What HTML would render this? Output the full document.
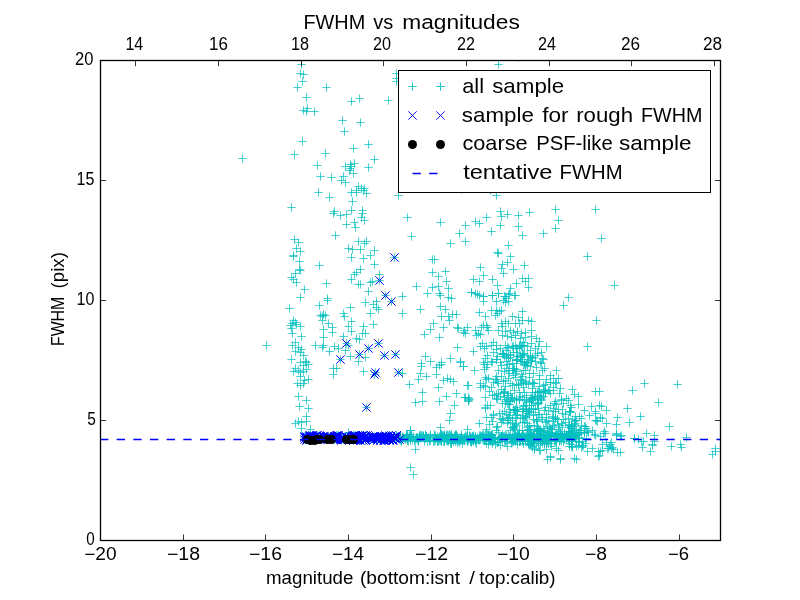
<!DOCTYPE html>
<html><head><meta charset="utf-8"><style>
html,body{margin:0;padding:0;background:#fff;}
svg{display:block;}
text{font-family:"Liberation Sans",sans-serif;fill:#000;}
.tx{will-change:transform;}
</style></head><body>
<svg width="800" height="600" viewBox="0 0 800 600">
<rect width="800" height="600" fill="#fff"/>
<svg x="0" y="0" width="800" height="600"><defs><clipPath id="c"><rect x="100" y="60" width="621" height="481"/></clipPath></defs><g clip-path="url(#c)">
<path d="M297.33 64.5h8.34M301.5 60.33v8.34M296.33 73.5h8.34M300.5 69.33v8.34M299.33 74.5h8.34M303.5 70.33v8.34M298.33 81.5h8.34M302.5 77.33v8.34M293.33 87.5h8.34M297.5 83.33v8.34M322.33 87.5h8.34M326.5 83.33v8.34M302.33 97.5h8.34M306.5 93.33v8.34M347.33 101.5h8.34M351.5 97.33v8.34M355.33 98.5h8.34M359.5 94.33v8.34M384.33 100.5h8.34M388.5 96.33v8.34M299.33 110.5h8.34M303.5 106.33v8.34M303.33 108.5h8.34M307.5 104.33v8.34M302.33 111.5h8.34M306.5 107.33v8.34M310.33 111.5h8.34M314.5 107.33v8.34M338.33 120.5h8.34M342.5 116.33v8.34M356.33 122.5h8.34M360.5 118.33v8.34M340.33 131.5h8.34M344.5 127.33v8.34M392.33 73.5h8.34M396.5 69.33v8.34M392.33 78.5h8.34M396.5 74.33v8.34M392.33 81.5h8.34M396.5 77.33v8.34M298.33 141.5h8.34M302.5 137.33v8.34M364.33 144.5h8.34M368.5 140.33v8.34M349.33 148.5h8.34M353.5 144.33v8.34M321.33 153.5h8.34M325.5 149.33v8.34M370.33 159.5h8.34M374.5 155.33v8.34M313.33 165.5h8.34M317.5 161.33v8.34M364.33 167.5h8.34M368.5 163.33v8.34M341.33 166.5h8.34M345.5 162.33v8.34M346.33 164.5h8.34M350.5 160.33v8.34M350.33 163.5h8.34M354.5 159.33v8.34M346.33 168.5h8.34M350.5 164.33v8.34M347.33 166.5h8.34M351.5 162.33v8.34M345.33 170.5h8.34M349.5 166.33v8.34M349.33 173.5h8.34M353.5 169.33v8.34M339.33 176.5h8.34M343.5 172.33v8.34M337.33 180.5h8.34M341.5 176.33v8.34M341.33 182.5h8.34M345.5 178.33v8.34M316.33 176.5h8.34M320.5 172.33v8.34M327.33 177.5h8.34M331.5 173.33v8.34M314.33 192.5h8.34M318.5 188.33v8.34M325.33 197.5h8.34M329.5 193.33v8.34M354.33 186.5h8.34M358.5 182.33v8.34M357.33 188.5h8.34M361.5 184.33v8.34M352.33 190.5h8.34M356.5 186.33v8.34M360.33 188.5h8.34M364.5 184.33v8.34M347.33 192.5h8.34M351.5 188.33v8.34M352.33 192.5h8.34M356.5 188.33v8.34M362.33 193.5h8.34M366.5 189.33v8.34M359.33 190.5h8.34M363.5 186.33v8.34M348.33 201.5h8.34M352.5 197.33v8.34M330.33 211.5h8.34M334.5 207.33v8.34M347.33 210.5h8.34M351.5 206.33v8.34M358.33 210.5h8.34M362.5 206.33v8.34M394.33 195.5h8.34M398.5 191.33v8.34M290.33 154.5h8.34M294.5 150.33v8.34M287.33 207.5h8.34M291.5 203.33v8.34M336.33 215.5h8.34M340.5 211.33v8.34M342.33 214.5h8.34M346.5 210.33v8.34M329.33 213.5h8.34M333.5 209.33v8.34M360.33 220.5h8.34M364.5 216.33v8.34M357.33 217.5h8.34M361.5 213.33v8.34M350.33 222.5h8.34M354.5 218.33v8.34M342.33 224.5h8.34M346.5 220.33v8.34M351.33 227.5h8.34M355.5 223.33v8.34M358.33 213.5h8.34M362.5 209.33v8.34M403.33 217.5h8.34M407.5 213.33v8.34M436.33 222.5h8.34M440.5 218.33v8.34M331.33 235.5h8.34M335.5 231.33v8.34M407.33 236.5h8.34M411.5 232.33v8.34M290.33 239.5h8.34M294.5 235.33v8.34M294.33 242.5h8.34M298.5 238.33v8.34M292.33 248.5h8.34M296.5 244.33v8.34M296.33 251.5h8.34M300.5 247.33v8.34M289.33 255.5h8.34M293.5 251.33v8.34M289.33 256.5h8.34M293.5 252.33v8.34M295.33 261.5h8.34M299.5 257.33v8.34M295.33 269.5h8.34M299.5 265.33v8.34M296.33 270.5h8.34M300.5 266.33v8.34M291.33 273.5h8.34M295.5 269.33v8.34M287.33 277.5h8.34M291.5 273.33v8.34M289.33 279.5h8.34M293.5 275.33v8.34M292.33 282.5h8.34M296.5 278.33v8.34M300.33 289.5h8.34M304.5 285.33v8.34M296.33 297.5h8.34M300.5 293.33v8.34M315.33 265.5h8.34M319.5 261.33v8.34M322.33 283.5h8.34M326.5 279.33v8.34M354.33 241.5h8.34M358.5 237.33v8.34M362.33 241.5h8.34M366.5 237.33v8.34M360.33 243.5h8.34M364.5 239.33v8.34M344.33 248.5h8.34M348.5 244.33v8.34M348.33 249.5h8.34M352.5 245.33v8.34M356.33 249.5h8.34M360.5 245.33v8.34M370.33 250.5h8.34M374.5 246.33v8.34M366.33 255.5h8.34M370.5 251.33v8.34M347.33 257.5h8.34M351.5 253.33v8.34M359.33 258.5h8.34M363.5 254.33v8.34M370.33 264.5h8.34M374.5 260.33v8.34M356.33 269.5h8.34M360.5 265.33v8.34M352.33 272.5h8.34M356.5 268.33v8.34M350.33 274.5h8.34M354.5 270.33v8.34M375.33 274.5h8.34M379.5 270.33v8.34M347.33 279.5h8.34M351.5 275.33v8.34M366.33 282.5h8.34M370.5 278.33v8.34M368.33 281.5h8.34M372.5 277.33v8.34M354.33 284.5h8.34M358.5 280.33v8.34M356.33 284.5h8.34M360.5 280.33v8.34M364.33 291.5h8.34M368.5 287.33v8.34M428.33 259.5h8.34M432.5 255.33v8.34M430.33 259.5h8.34M434.5 255.33v8.34M428.33 272.5h8.34M432.5 268.33v8.34M434.33 276.5h8.34M438.5 272.33v8.34M412.33 286.5h8.34M416.5 282.33v8.34M423.33 293.5h8.34M427.5 289.33v8.34M428.33 287.5h8.34M432.5 283.33v8.34M434.33 286.5h8.34M438.5 282.33v8.34M398.33 296.5h8.34M402.5 292.33v8.34M323.33 298.5h8.34M327.5 294.33v8.34M238.33 158.5h8.34M242.5 154.33v8.34M494.33 64.5h8.34M498.5 60.33v8.34M514.33 57.5h8.34M518.5 53.33v8.34M457.33 189.5h8.34M461.5 185.33v8.34M486.33 190.5h8.34M490.5 186.33v8.34M492.33 195.5h8.34M496.5 191.33v8.34M496.33 211.5h8.34M500.5 207.33v8.34M497.33 216.5h8.34M501.5 212.33v8.34M503.33 214.5h8.34M507.5 210.33v8.34M514.33 215.5h8.34M518.5 211.33v8.34M525.33 212.5h8.34M529.5 208.33v8.34M551.33 209.5h8.34M555.5 205.33v8.34M554.33 220.5h8.34M558.5 216.33v8.34M551.33 228.5h8.34M555.5 224.33v8.34M539.33 233.5h8.34M543.5 229.33v8.34M518.33 235.5h8.34M522.5 231.33v8.34M514.33 226.5h8.34M518.5 222.33v8.34M496.33 225.5h8.34M500.5 221.33v8.34M487.33 231.5h8.34M491.5 227.33v8.34M482.33 217.5h8.34M486.5 213.33v8.34M471.33 221.5h8.34M475.5 217.33v8.34M475.33 223.5h8.34M479.5 219.33v8.34M461.33 225.5h8.34M465.5 221.33v8.34M455.33 233.5h8.34M459.5 229.33v8.34M461.33 241.5h8.34M465.5 237.33v8.34M446.33 243.5h8.34M450.5 239.33v8.34M504.33 245.5h8.34M508.5 241.33v8.34M494.33 253.5h8.34M498.5 249.33v8.34M493.33 252.5h8.34M497.5 248.33v8.34M506.33 256.5h8.34M510.5 252.33v8.34M583.33 256.5h8.34M587.5 252.33v8.34M503.33 262.5h8.34M507.5 258.33v8.34M498.33 264.5h8.34M502.5 260.33v8.34M520.33 265.5h8.34M524.5 261.33v8.34M476.33 267.5h8.34M480.5 263.33v8.34M497.33 268.5h8.34M501.5 264.33v8.34M509.33 269.5h8.34M513.5 265.33v8.34M499.33 273.5h8.34M503.5 269.33v8.34M441.33 271.5h8.34M445.5 267.33v8.34M442.33 281.5h8.34M446.5 277.33v8.34M479.33 275.5h8.34M483.5 271.33v8.34M469.33 279.5h8.34M473.5 275.33v8.34M475.33 281.5h8.34M479.5 277.33v8.34M488.33 279.5h8.34M492.5 275.33v8.34M493.33 285.5h8.34M497.5 281.33v8.34M512.33 283.5h8.34M516.5 279.33v8.34M518.33 278.5h8.34M522.5 274.33v8.34M524.33 278.5h8.34M528.5 274.33v8.34M521.33 281.5h8.34M525.5 277.33v8.34M524.33 287.5h8.34M528.5 283.33v8.34M506.33 288.5h8.34M510.5 284.33v8.34M444.33 288.5h8.34M448.5 284.33v8.34M435.33 293.5h8.34M439.5 289.33v8.34M436.33 295.5h8.34M440.5 291.33v8.34M444.33 297.5h8.34M448.5 293.33v8.34M467.33 292.5h8.34M471.5 288.33v8.34M473.33 294.5h8.34M477.5 290.33v8.34M479.33 296.5h8.34M483.5 292.33v8.34M488.33 295.5h8.34M492.5 291.33v8.34M494.33 293.5h8.34M498.5 289.33v8.34M500.33 296.5h8.34M504.5 292.33v8.34M505.33 293.5h8.34M509.5 289.33v8.34M511.33 295.5h8.34M515.5 291.33v8.34M564.33 297.5h8.34M568.5 293.33v8.34M502.33 298.5h8.34M506.5 294.33v8.34M591.33 209.5h8.34M595.5 205.33v8.34M597.33 238.5h8.34M601.5 234.33v8.34M610.33 285.5h8.34M614.5 281.33v8.34M285.33 308.5h8.34M289.5 304.33v8.34M315.33 305.5h8.34M319.5 301.33v8.34M323.33 300.5h8.34M327.5 296.33v8.34M361.33 302.5h8.34M365.5 298.33v8.34M369.33 304.5h8.34M373.5 300.33v8.34M372.33 301.5h8.34M376.5 297.33v8.34M372.33 307.5h8.34M376.5 303.33v8.34M374.33 309.5h8.34M378.5 305.33v8.34M366.33 313.5h8.34M370.5 309.33v8.34M369.33 324.5h8.34M373.5 320.33v8.34M346.33 307.5h8.34M350.5 303.33v8.34M339.33 313.5h8.34M343.5 309.33v8.34M340.33 316.5h8.34M344.5 312.33v8.34M316.33 315.5h8.34M320.5 311.33v8.34M319.33 314.5h8.34M323.5 310.33v8.34M321.33 315.5h8.34M325.5 311.33v8.34M318.33 316.5h8.34M322.5 312.33v8.34M318.33 320.5h8.34M322.5 316.33v8.34M324.33 323.5h8.34M328.5 319.33v8.34M328.33 327.5h8.34M332.5 323.33v8.34M319.33 329.5h8.34M323.5 325.33v8.34M328.33 332.5h8.34M332.5 328.33v8.34M319.33 337.5h8.34M323.5 333.33v8.34M347.33 321.5h8.34M351.5 317.33v8.34M344.33 326.5h8.34M348.5 322.33v8.34M347.33 331.5h8.34M351.5 327.33v8.34M359.33 326.5h8.34M363.5 322.33v8.34M361.33 333.5h8.34M365.5 329.33v8.34M352.33 338.5h8.34M356.5 334.33v8.34M355.33 339.5h8.34M359.5 335.33v8.34M339.33 336.5h8.34M343.5 332.33v8.34M311.33 345.5h8.34M315.5 341.33v8.34M319.33 345.5h8.34M323.5 341.33v8.34M318.33 347.5h8.34M322.5 343.33v8.34M330.33 346.5h8.34M334.5 342.33v8.34M325.33 351.5h8.34M329.5 347.33v8.34M334.33 348.5h8.34M338.5 344.33v8.34M344.33 345.5h8.34M348.5 341.33v8.34M341.33 350.5h8.34M345.5 346.33v8.34M346.33 356.5h8.34M350.5 352.33v8.34M361.33 357.5h8.34M365.5 353.33v8.34M354.33 361.5h8.34M358.5 357.33v8.34M286.33 325.5h8.34M290.5 321.33v8.34M288.33 323.5h8.34M292.5 319.33v8.34M291.33 322.5h8.34M295.5 318.33v8.34M289.33 320.5h8.34M293.5 316.33v8.34M292.33 324.5h8.34M296.5 320.33v8.34M296.33 326.5h8.34M300.5 322.33v8.34M287.33 328.5h8.34M291.5 324.33v8.34M288.33 333.5h8.34M292.5 329.33v8.34M297.33 336.5h8.34M301.5 332.33v8.34M288.33 345.5h8.34M292.5 341.33v8.34M291.33 342.5h8.34M295.5 338.33v8.34M294.33 347.5h8.34M298.5 343.33v8.34M297.33 349.5h8.34M301.5 345.33v8.34M299.33 355.5h8.34M303.5 351.33v8.34M291.33 351.5h8.34M295.5 347.33v8.34M296.33 352.5h8.34M300.5 348.33v8.34M287.33 359.5h8.34M291.5 355.33v8.34M302.33 362.5h8.34M306.5 358.33v8.34M398.33 313.5h8.34M402.5 309.33v8.34M416.33 309.5h8.34M420.5 305.33v8.34M436.33 306.5h8.34M440.5 302.33v8.34M441.33 309.5h8.34M445.5 305.33v8.34M437.33 316.5h8.34M441.5 312.33v8.34M444.33 316.5h8.34M448.5 312.33v8.34M448.33 314.5h8.34M452.5 310.33v8.34M452.33 314.5h8.34M456.5 310.33v8.34M445.33 320.5h8.34M449.5 316.33v8.34M429.33 323.5h8.34M433.5 319.33v8.34M426.33 329.5h8.34M430.5 325.33v8.34M439.33 327.5h8.34M443.5 323.33v8.34M420.33 334.5h8.34M424.5 330.33v8.34M435.33 337.5h8.34M439.5 333.33v8.34M453.33 327.5h8.34M457.5 323.33v8.34M358.33 333.5h8.34M362.5 329.33v8.34M421.33 356.5h8.34M425.5 352.33v8.34M426.33 361.5h8.34M430.5 357.33v8.34M437.33 362.5h8.34M441.5 358.33v8.34M446.33 358.5h8.34M450.5 354.33v8.34M453.33 347.5h8.34M457.5 343.33v8.34M417.33 363.5h8.34M421.5 359.33v8.34M296.33 362.5h8.34M300.5 358.33v8.34M301.33 361.5h8.34M305.5 357.33v8.34M304.33 364.5h8.34M308.5 360.33v8.34M299.33 365.5h8.34M303.5 361.33v8.34M291.33 368.5h8.34M295.5 364.33v8.34M294.33 370.5h8.34M298.5 366.33v8.34M289.33 371.5h8.34M293.5 367.33v8.34M296.33 372.5h8.34M300.5 368.33v8.34M299.33 371.5h8.34M303.5 367.33v8.34M302.33 369.5h8.34M306.5 365.33v8.34M296.33 376.5h8.34M300.5 372.33v8.34M304.33 379.5h8.34M308.5 375.33v8.34M300.33 380.5h8.34M304.5 376.33v8.34M293.33 383.5h8.34M297.5 379.33v8.34M296.33 385.5h8.34M300.5 381.33v8.34M299.33 383.5h8.34M303.5 379.33v8.34M329.33 368.5h8.34M333.5 364.33v8.34M332.33 368.5h8.34M336.5 364.33v8.34M329.33 374.5h8.34M333.5 370.33v8.34M359.33 371.5h8.34M363.5 367.33v8.34M294.33 396.5h8.34M298.5 392.33v8.34M302.33 400.5h8.34M306.5 396.33v8.34M295.33 406.5h8.34M299.5 402.33v8.34M304.33 408.5h8.34M308.5 404.33v8.34M302.33 416.5h8.34M306.5 412.33v8.34M294.33 421.5h8.34M298.5 417.33v8.34M297.33 422.5h8.34M301.5 418.33v8.34M302.33 421.5h8.34M306.5 417.33v8.34M291.33 423.5h8.34M295.5 419.33v8.34M297.33 428.5h8.34M301.5 424.33v8.34M306.33 429.5h8.34M310.5 425.33v8.34M398.33 373.5h8.34M402.5 369.33v8.34M417.33 366.5h8.34M421.5 362.33v8.34M432.33 367.5h8.34M436.5 363.33v8.34M435.33 365.5h8.34M439.5 361.33v8.34M437.33 364.5h8.34M441.5 360.33v8.34M456.33 362.5h8.34M460.5 358.33v8.34M459.33 366.5h8.34M463.5 362.33v8.34M416.33 373.5h8.34M420.5 369.33v8.34M422.33 376.5h8.34M426.5 372.33v8.34M432.33 374.5h8.34M436.5 370.33v8.34M414.33 379.5h8.34M418.5 375.33v8.34M405.33 384.5h8.34M409.5 380.33v8.34M439.33 380.5h8.34M443.5 376.33v8.34M443.33 378.5h8.34M447.5 374.33v8.34M446.33 379.5h8.34M450.5 375.33v8.34M449.33 381.5h8.34M453.5 377.33v8.34M434.33 387.5h8.34M438.5 383.33v8.34M463.33 385.5h8.34M467.5 381.33v8.34M418.33 392.5h8.34M422.5 388.33v8.34M452.33 393.5h8.34M456.5 389.33v8.34M442.33 396.5h8.34M446.5 392.33v8.34M411.33 402.5h8.34M415.5 398.33v8.34M418.33 401.5h8.34M422.5 397.33v8.34M435.33 401.5h8.34M439.5 397.33v8.34M461.33 397.5h8.34M465.5 393.33v8.34M464.33 400.5h8.34M468.5 396.33v8.34M464.33 397.5h8.34M468.5 393.33v8.34M450.33 405.5h8.34M454.5 401.33v8.34M446.33 413.5h8.34M450.5 409.33v8.34M445.33 420.5h8.34M449.5 416.33v8.34M436.33 427.5h8.34M440.5 423.33v8.34M463.33 429.5h8.34M467.5 425.33v8.34M406.33 430.5h8.34M410.5 426.33v8.34M467.33 292.5h8.34M471.5 288.33v8.34M471.33 293.5h8.34M475.5 289.33v8.34M475.33 295.5h8.34M479.5 291.33v8.34M479.33 296.5h8.34M483.5 292.33v8.34M479.33 301.5h8.34M483.5 297.33v8.34M488.33 295.5h8.34M492.5 291.33v8.34M494.33 293.5h8.34M498.5 289.33v8.34M501.33 296.5h8.34M505.5 292.33v8.34M504.33 294.5h8.34M508.5 290.33v8.34M510.33 295.5h8.34M514.5 291.33v8.34M492.33 301.5h8.34M496.5 297.33v8.34M499.33 300.5h8.34M503.5 296.33v8.34M501.33 302.5h8.34M505.5 298.33v8.34M504.33 301.5h8.34M508.5 297.33v8.34M447.33 298.5h8.34M451.5 294.33v8.34M475.33 312.5h8.34M479.5 308.33v8.34M487.33 310.5h8.34M491.5 306.33v8.34M492.33 310.5h8.34M496.5 306.33v8.34M495.33 311.5h8.34M499.5 307.33v8.34M497.33 310.5h8.34M501.5 306.33v8.34M493.33 313.5h8.34M497.5 309.33v8.34M491.33 315.5h8.34M495.5 311.33v8.34M481.33 316.5h8.34M485.5 312.33v8.34M518.33 311.5h8.34M522.5 307.33v8.34M508.33 316.5h8.34M512.5 312.33v8.34M514.33 317.5h8.34M518.5 313.33v8.34M518.33 320.5h8.34M522.5 316.33v8.34M524.33 320.5h8.34M528.5 316.33v8.34M527.33 321.5h8.34M531.5 317.33v8.34M501.33 321.5h8.34M505.5 317.33v8.34M497.33 323.5h8.34M501.5 319.33v8.34M504.33 323.5h8.34M508.5 319.33v8.34M511.33 323.5h8.34M515.5 319.33v8.34M515.33 323.5h8.34M519.5 319.33v8.34M479.33 325.5h8.34M483.5 321.33v8.34M482.33 325.5h8.34M486.5 321.33v8.34M483.33 327.5h8.34M487.5 323.33v8.34M477.33 327.5h8.34M481.5 323.33v8.34M454.33 328.5h8.34M458.5 324.33v8.34M460.33 330.5h8.34M464.5 326.33v8.34M463.33 327.5h8.34M467.5 323.33v8.34M461.33 333.5h8.34M465.5 329.33v8.34M459.33 332.5h8.34M463.5 328.33v8.34M471.33 330.5h8.34M475.5 326.33v8.34M474.33 333.5h8.34M478.5 329.33v8.34M472.33 335.5h8.34M476.5 331.33v8.34M476.33 334.5h8.34M480.5 330.33v8.34M484.33 330.5h8.34M488.5 326.33v8.34M494.33 330.5h8.34M498.5 326.33v8.34M498.33 326.5h8.34M502.5 322.33v8.34M501.33 331.5h8.34M505.5 327.33v8.34M506.33 330.5h8.34M510.5 326.33v8.34M509.33 332.5h8.34M513.5 328.33v8.34M513.33 331.5h8.34M517.5 327.33v8.34M517.33 333.5h8.34M521.5 329.33v8.34M521.33 332.5h8.34M525.5 328.33v8.34M527.33 330.5h8.34M531.5 326.33v8.34M498.33 335.5h8.34M502.5 331.33v8.34M503.33 336.5h8.34M507.5 332.33v8.34M507.33 337.5h8.34M511.5 333.33v8.34M511.33 335.5h8.34M515.5 331.33v8.34M516.33 338.5h8.34M520.5 334.33v8.34M521.33 337.5h8.34M525.5 333.33v8.34M527.33 336.5h8.34M531.5 332.33v8.34M532.33 338.5h8.34M536.5 334.33v8.34M535.33 341.5h8.34M539.5 337.33v8.34M542.33 346.5h8.34M546.5 342.33v8.34M469.33 351.5h8.34M473.5 347.33v8.34M478.33 343.5h8.34M482.5 339.33v8.34M482.33 346.5h8.34M486.5 342.33v8.34M480.33 348.5h8.34M484.5 344.33v8.34M476.33 346.5h8.34M480.5 342.33v8.34M489.33 342.5h8.34M493.5 338.33v8.34M487.33 345.5h8.34M491.5 341.33v8.34M492.33 345.5h8.34M496.5 341.33v8.34M496.33 348.5h8.34M500.5 344.33v8.34M501.33 345.5h8.34M505.5 341.33v8.34M504.33 347.5h8.34M508.5 343.33v8.34M508.33 346.5h8.34M512.5 342.33v8.34M512.33 348.5h8.34M516.5 344.33v8.34M516.33 345.5h8.34M520.5 341.33v8.34M519.33 342.5h8.34M523.5 338.33v8.34M523.33 346.5h8.34M527.5 342.33v8.34M527.33 343.5h8.34M531.5 339.33v8.34M531.33 348.5h8.34M535.5 344.33v8.34M534.33 346.5h8.34M538.5 342.33v8.34M483.33 355.5h8.34M487.5 351.33v8.34M489.33 352.5h8.34M493.5 348.33v8.34M493.33 356.5h8.34M497.5 352.33v8.34M498.33 353.5h8.34M502.5 349.33v8.34M502.33 357.5h8.34M506.5 353.33v8.34M506.33 355.5h8.34M510.5 351.33v8.34M509.33 352.5h8.34M513.5 348.33v8.34M513.33 356.5h8.34M517.5 352.33v8.34M518.33 353.5h8.34M522.5 349.33v8.34M523.33 355.5h8.34M527.5 351.33v8.34M528.33 357.5h8.34M532.5 353.33v8.34M533.33 353.5h8.34M537.5 349.33v8.34M538.33 358.5h8.34M542.5 354.33v8.34M456.33 361.5h8.34M460.5 357.33v8.34M479.33 362.5h8.34M483.5 358.33v8.34M487.33 361.5h8.34M491.5 357.33v8.34M496.33 362.5h8.34M500.5 358.33v8.34M502.33 361.5h8.34M506.5 357.33v8.34M508.33 363.5h8.34M512.5 359.33v8.34M516.33 361.5h8.34M520.5 357.33v8.34M523.33 362.5h8.34M527.5 358.33v8.34M531.33 361.5h8.34M535.5 357.33v8.34M537.33 363.5h8.34M541.5 359.33v8.34M559.33 305.5h8.34M563.5 301.33v8.34M592.33 320.5h8.34M596.5 316.33v8.34M583.33 346.5h8.34M587.5 342.33v8.34M537.33 352.5h8.34M541.5 348.33v8.34M539.33 359.5h8.34M543.5 355.33v8.34M459.33 366.5h8.34M463.5 362.33v8.34M470.33 370.5h8.34M474.5 366.33v8.34M480.33 364.5h8.34M484.5 360.33v8.34M480.33 369.5h8.34M484.5 365.33v8.34M482.33 367.5h8.34M486.5 363.33v8.34M488.33 362.5h8.34M492.5 358.33v8.34M494.33 370.5h8.34M498.5 366.33v8.34M497.33 365.5h8.34M501.5 361.33v8.34M481.33 377.5h8.34M485.5 373.33v8.34M476.33 383.5h8.34M480.5 379.33v8.34M476.33 387.5h8.34M480.5 383.33v8.34M479.33 385.5h8.34M483.5 381.33v8.34M464.33 385.5h8.34M468.5 381.33v8.34M489.33 382.5h8.34M493.5 378.33v8.34M492.33 379.5h8.34M496.5 375.33v8.34M493.33 381.5h8.34M497.5 377.33v8.34M487.33 387.5h8.34M491.5 383.33v8.34M460.33 397.5h8.34M464.5 393.33v8.34M464.33 398.5h8.34M468.5 394.33v8.34M464.33 401.5h8.34M468.5 397.33v8.34M465.33 399.5h8.34M469.5 395.33v8.34M481.33 397.5h8.34M485.5 393.33v8.34M483.33 405.5h8.34M487.5 401.33v8.34M486.33 405.5h8.34M490.5 401.33v8.34M481.33 408.5h8.34M485.5 404.33v8.34M482.33 417.5h8.34M486.5 413.33v8.34M489.33 415.5h8.34M493.5 411.33v8.34M490.33 395.5h8.34M494.5 391.33v8.34M494.33 393.5h8.34M498.5 389.33v8.34M497.33 389.5h8.34M501.5 385.33v8.34M500.33 391.5h8.34M504.5 387.33v8.34M492.33 398.5h8.34M496.5 394.33v8.34M552.33 370.5h8.34M556.5 366.33v8.34M554.33 378.5h8.34M558.5 374.33v8.34M546.33 375.5h8.34M550.5 371.33v8.34M556.33 388.5h8.34M560.5 384.33v8.34M568.33 389.5h8.34M572.5 385.33v8.34M591.33 391.5h8.34M595.5 387.33v8.34M595.33 391.5h8.34M599.5 387.33v8.34M628.33 390.5h8.34M632.5 386.33v8.34M574.33 396.5h8.34M578.5 392.33v8.34M570.33 394.5h8.34M574.5 390.33v8.34M574.33 404.5h8.34M578.5 400.33v8.34M562.33 398.5h8.34M566.5 394.33v8.34M587.33 406.5h8.34M591.5 402.33v8.34M595.33 405.5h8.34M599.5 401.33v8.34M602.33 410.5h8.34M606.5 406.33v8.34M580.33 410.5h8.34M584.5 406.33v8.34M623.33 408.5h8.34M627.5 404.33v8.34M585.33 415.5h8.34M589.5 411.33v8.34M591.33 413.5h8.34M595.5 409.33v8.34M596.33 417.5h8.34M600.5 413.33v8.34M613.33 417.5h8.34M617.5 413.33v8.34M625.33 422.5h8.34M629.5 418.33v8.34M636.33 416.5h8.34M640.5 412.33v8.34M602.33 423.5h8.34M606.5 419.33v8.34M592.33 420.5h8.34M596.5 416.33v8.34M580.33 426.5h8.34M584.5 422.33v8.34M572.33 420.5h8.34M576.5 416.33v8.34M566.33 412.5h8.34M570.5 408.33v8.34M612.33 424.5h8.34M616.5 420.33v8.34M600.33 431.5h8.34M604.5 427.33v8.34M612.33 434.5h8.34M616.5 430.33v8.34M616.33 436.5h8.34M620.5 432.33v8.34M630.33 438.5h8.34M634.5 434.33v8.34M584.33 432.5h8.34M588.5 428.33v8.34M590.33 434.5h8.34M594.5 430.33v8.34M596.33 436.5h8.34M600.5 432.33v8.34M588.33 448.5h8.34M592.5 444.33v8.34M596.33 451.5h8.34M600.5 447.33v8.34M604.33 448.5h8.34M608.5 444.33v8.34M616.33 452.5h8.34M620.5 448.33v8.34M606.33 444.5h8.34M610.5 440.33v8.34M598.33 444.5h8.34M602.5 440.33v8.34M594.33 456.5h8.34M598.5 452.33v8.34M546.33 456.5h8.34M550.5 452.33v8.34M556.33 458.5h8.34M560.5 454.33v8.34M570.33 458.5h8.34M574.5 454.33v8.34M536.33 450.5h8.34M540.5 446.33v8.34M640.33 383.5h8.34M644.5 379.33v8.34M654.33 402.5h8.34M658.5 398.33v8.34M475.33 423.5h8.34M479.5 419.33v8.34M485.33 424.5h8.34M489.5 420.33v8.34M493.33 426.5h8.34M497.5 422.33v8.34M496.33 445.5h8.34M500.5 441.33v8.34M503.33 446.5h8.34M507.5 442.33v8.34M543.33 459.5h8.34M547.5 455.33v8.34M546.33 457.5h8.34M550.5 453.33v8.34M556.33 459.5h8.34M560.5 455.33v8.34M572.33 459.5h8.34M576.5 455.33v8.34M535.33 450.5h8.34M539.5 446.33v8.34M595.33 455.5h8.34M599.5 451.33v8.34M594.33 451.5h8.34M598.5 447.33v8.34M583.33 451.5h8.34M587.5 447.33v8.34M613.33 452.5h8.34M617.5 448.33v8.34M603.33 448.5h8.34M607.5 444.33v8.34M608.33 447.5h8.34M612.5 443.33v8.34M528.33 446.5h8.34M532.5 442.33v8.34M525.33 445.5h8.34M529.5 441.33v8.34M552.33 448.5h8.34M556.5 444.33v8.34M554.33 450.5h8.34M558.5 446.33v8.34M568.33 447.5h8.34M572.5 443.33v8.34M572.33 446.5h8.34M576.5 442.33v8.34M578.33 446.5h8.34M582.5 442.33v8.34M591.33 411.5h8.34M595.5 407.33v8.34M597.33 406.5h8.34M601.5 402.33v8.34M598.33 418.5h8.34M602.5 414.33v8.34M591.33 420.5h8.34M595.5 416.33v8.34M593.33 421.5h8.34M597.5 417.33v8.34M571.33 420.5h8.34M575.5 416.33v8.34M577.33 418.5h8.34M581.5 414.33v8.34M581.33 426.5h8.34M585.5 422.33v8.34M576.33 430.5h8.34M580.5 426.33v8.34M583.33 431.5h8.34M587.5 427.33v8.34M588.33 430.5h8.34M592.5 426.33v8.34M591.33 435.5h8.34M595.5 431.33v8.34M601.33 433.5h8.34M605.5 429.33v8.34M612.33 435.5h8.34M616.5 431.33v8.34M566.33 411.5h8.34M570.5 407.33v8.34M564.33 418.5h8.34M568.5 414.33v8.34M673.33 384.5h8.34M677.5 380.33v8.34M665.33 426.5h8.34M669.5 422.33v8.34M642.33 433.5h8.34M646.5 429.33v8.34M650.33 435.5h8.34M654.5 431.33v8.34M682.33 437.5h8.34M686.5 433.33v8.34M637.33 441.5h8.34M641.5 437.33v8.34M638.33 447.5h8.34M642.5 443.33v8.34M648.33 444.5h8.34M652.5 440.33v8.34M650.33 441.5h8.34M654.5 437.33v8.34M667.33 446.5h8.34M671.5 442.33v8.34M676.33 444.5h8.34M680.5 440.33v8.34M677.33 447.5h8.34M681.5 443.33v8.34M711.33 448.5h8.34M715.5 444.33v8.34M607.33 442.5h8.34M611.5 438.33v8.34M607.33 448.5h8.34M611.5 444.33v8.34M630.33 438.5h8.34M634.5 434.33v8.34M634.33 439.5h8.34M638.5 435.33v8.34M639.33 441.5h8.34M643.5 437.33v8.34M648.33 445.5h8.34M652.5 441.33v8.34M646.33 451.5h8.34M650.5 447.33v8.34M711.33 451.5h8.34M715.5 447.33v8.34M708.33 454.5h8.34M712.5 450.33v8.34M612.33 433.5h8.34M616.5 429.33v8.34M617.33 435.5h8.34M621.5 431.33v8.34M599.33 433.5h8.34M603.5 429.33v8.34M605.33 446.5h8.34M609.5 442.33v8.34M609.33 449.5h8.34M613.5 445.33v8.34M602.33 442.5h8.34M606.5 438.33v8.34M598.33 450.5h8.34M602.5 446.33v8.34M406.33 467.5h8.34M410.5 463.33v8.34M409.33 474.5h8.34M413.5 470.33v8.34M411.33 449.5h8.34M415.5 445.33v8.34M406.33 430.5h8.34M410.5 426.33v8.34M344.33 432.5h8.34M348.5 428.33v8.34M262.33 345.5h8.34M266.5 341.33v8.34M430.33 437.5h8.34M434.5 433.33v8.34M564.33 434.5h8.34M568.5 430.33v8.34M543.33 437.5h8.34M547.5 433.33v8.34M485.33 440.5h8.34M489.5 436.33v8.34M466.33 438.5h8.34M470.5 434.33v8.34M519.33 441.5h8.34M523.5 437.33v8.34M457.33 440.5h8.34M461.5 436.33v8.34M523.33 439.5h8.34M527.5 435.33v8.34M468.33 436.5h8.34M472.5 432.33v8.34M405.33 435.5h8.34M409.5 431.33v8.34M408.33 439.5h8.34M412.5 435.33v8.34M442.33 435.5h8.34M446.5 431.33v8.34M411.33 440.5h8.34M415.5 436.33v8.34M552.33 439.5h8.34M556.5 435.33v8.34M446.33 435.5h8.34M450.5 431.33v8.34M448.33 437.5h8.34M452.5 433.33v8.34M424.33 437.5h8.34M428.5 433.33v8.34M443.33 441.5h8.34M447.5 437.33v8.34M571.33 438.5h8.34M575.5 434.33v8.34M440.33 441.5h8.34M444.5 437.33v8.34M451.33 436.5h8.34M455.5 432.33v8.34M396.33 437.5h8.34M400.5 433.33v8.34M481.33 438.5h8.34M485.5 434.33v8.34M432.33 438.5h8.34M436.5 434.33v8.34M396.33 436.5h8.34M400.5 432.33v8.34M412.33 437.5h8.34M416.5 433.33v8.34M403.33 434.5h8.34M407.5 430.33v8.34M450.33 435.5h8.34M454.5 431.33v8.34M501.33 438.5h8.34M505.5 434.33v8.34M531.33 439.5h8.34M535.5 435.33v8.34M524.33 441.5h8.34M528.5 437.33v8.34M466.33 436.5h8.34M470.5 432.33v8.34M573.33 435.5h8.34M577.5 431.33v8.34M526.33 439.5h8.34M530.5 435.33v8.34M403.33 440.5h8.34M407.5 436.33v8.34M556.33 439.5h8.34M560.5 435.33v8.34M528.33 440.5h8.34M532.5 436.33v8.34M421.33 438.5h8.34M425.5 434.33v8.34M486.33 440.5h8.34M490.5 436.33v8.34M540.33 440.5h8.34M544.5 436.33v8.34M501.33 441.5h8.34M505.5 437.33v8.34M518.33 439.5h8.34M522.5 435.33v8.34M437.33 434.5h8.34M441.5 430.33v8.34M419.33 436.5h8.34M423.5 432.33v8.34M414.33 440.5h8.34M418.5 436.33v8.34M496.33 439.5h8.34M500.5 435.33v8.34M508.33 439.5h8.34M512.5 435.33v8.34M484.33 434.5h8.34M488.5 430.33v8.34M539.33 439.5h8.34M543.5 435.33v8.34M486.33 438.5h8.34M490.5 434.33v8.34M514.33 434.5h8.34M518.5 430.33v8.34M528.33 436.5h8.34M532.5 432.33v8.34M409.33 436.5h8.34M413.5 432.33v8.34M527.33 435.5h8.34M531.5 431.33v8.34M529.33 441.5h8.34M533.5 437.33v8.34M484.33 437.5h8.34M488.5 433.33v8.34M482.33 439.5h8.34M486.5 435.33v8.34M534.33 438.5h8.34M538.5 434.33v8.34M511.33 434.5h8.34M515.5 430.33v8.34M422.33 436.5h8.34M426.5 432.33v8.34M529.33 436.5h8.34M533.5 432.33v8.34M498.33 434.5h8.34M502.5 430.33v8.34M406.33 436.5h8.34M410.5 432.33v8.34M516.33 439.5h8.34M520.5 435.33v8.34M517.33 436.5h8.34M521.5 432.33v8.34M488.33 437.5h8.34M492.5 433.33v8.34M479.33 434.5h8.34M483.5 430.33v8.34M556.33 435.5h8.34M560.5 431.33v8.34M572.33 441.5h8.34M576.5 437.33v8.34M399.33 437.5h8.34M403.5 433.33v8.34M543.33 441.5h8.34M547.5 437.33v8.34M476.33 436.5h8.34M480.5 432.33v8.34M433.33 441.5h8.34M437.5 437.33v8.34M433.33 438.5h8.34M437.5 434.33v8.34M421.33 438.5h8.34M425.5 434.33v8.34M567.33 435.5h8.34M571.5 431.33v8.34M543.33 438.5h8.34M547.5 434.33v8.34M555.33 439.5h8.34M559.5 435.33v8.34M437.33 441.5h8.34M441.5 437.33v8.34M483.33 434.5h8.34M487.5 430.33v8.34M396.33 437.5h8.34M400.5 433.33v8.34M477.33 436.5h8.34M481.5 432.33v8.34M421.33 436.5h8.34M425.5 432.33v8.34M452.33 440.5h8.34M456.5 436.33v8.34M547.33 434.5h8.34M551.5 430.33v8.34M562.33 439.5h8.34M566.5 435.33v8.34M558.33 436.5h8.34M562.5 432.33v8.34M463.33 437.5h8.34M467.5 433.33v8.34M575.33 438.5h8.34M579.5 434.33v8.34M460.33 437.5h8.34M464.5 433.33v8.34M445.33 434.5h8.34M449.5 430.33v8.34M414.33 440.5h8.34M418.5 436.33v8.34M447.33 441.5h8.34M451.5 437.33v8.34M440.33 436.5h8.34M444.5 432.33v8.34M487.33 435.5h8.34M491.5 431.33v8.34M463.33 441.5h8.34M467.5 437.33v8.34M555.33 440.5h8.34M559.5 436.33v8.34M509.33 441.5h8.34M513.5 437.33v8.34M565.33 438.5h8.34M569.5 434.33v8.34M525.33 434.5h8.34M529.5 430.33v8.34M527.33 437.5h8.34M531.5 433.33v8.34M531.33 439.5h8.34M535.5 435.33v8.34M447.33 434.5h8.34M451.5 430.33v8.34M562.33 435.5h8.34M566.5 431.33v8.34M480.33 436.5h8.34M484.5 432.33v8.34M449.33 439.5h8.34M453.5 435.33v8.34M571.33 436.5h8.34M575.5 432.33v8.34M514.33 436.5h8.34M518.5 432.33v8.34M496.33 437.5h8.34M500.5 433.33v8.34M426.33 435.5h8.34M430.5 431.33v8.34M433.33 441.5h8.34M437.5 437.33v8.34M485.33 435.5h8.34M489.5 431.33v8.34M559.33 441.5h8.34M563.5 437.33v8.34M476.33 435.5h8.34M480.5 431.33v8.34M430.33 434.5h8.34M434.5 430.33v8.34M457.33 434.5h8.34M461.5 430.33v8.34M439.33 436.5h8.34M443.5 432.33v8.34M498.33 441.5h8.34M502.5 437.33v8.34M530.33 437.5h8.34M534.5 433.33v8.34M470.33 438.5h8.34M474.5 434.33v8.34M463.33 436.5h8.34M467.5 432.33v8.34M407.33 436.5h8.34M411.5 432.33v8.34M570.33 435.5h8.34M574.5 431.33v8.34M486.33 439.5h8.34M490.5 435.33v8.34M551.33 435.5h8.34M555.5 431.33v8.34M444.33 435.5h8.34M448.5 431.33v8.34M467.33 437.5h8.34M471.5 433.33v8.34M567.33 440.5h8.34M571.5 436.33v8.34M553.33 434.5h8.34M557.5 430.33v8.34M401.33 439.5h8.34M405.5 435.33v8.34M557.33 437.5h8.34M561.5 433.33v8.34M501.33 434.5h8.34M505.5 430.33v8.34M466.33 441.5h8.34M470.5 437.33v8.34M544.33 440.5h8.34M548.5 436.33v8.34M571.33 435.5h8.34M575.5 431.33v8.34M415.33 435.5h8.34M419.5 431.33v8.34M490.33 439.5h8.34M494.5 435.33v8.34M565.33 439.5h8.34M569.5 435.33v8.34M512.33 440.5h8.34M516.5 436.33v8.34M478.33 438.5h8.34M482.5 434.33v8.34M403.33 440.5h8.34M407.5 436.33v8.34M437.33 441.5h8.34M441.5 437.33v8.34M512.33 436.5h8.34M516.5 432.33v8.34M419.33 436.5h8.34M423.5 432.33v8.34M510.33 439.5h8.34M514.5 435.33v8.34M416.33 434.5h8.34M420.5 430.33v8.34M490.33 438.5h8.34M494.5 434.33v8.34M465.33 435.5h8.34M469.5 431.33v8.34M504.33 434.5h8.34M508.5 430.33v8.34M450.33 437.5h8.34M454.5 433.33v8.34M568.33 439.5h8.34M572.5 435.33v8.34M555.33 437.5h8.34M559.5 433.33v8.34M438.33 435.5h8.34M442.5 431.33v8.34M568.33 439.5h8.34M572.5 435.33v8.34M451.33 434.5h8.34M455.5 430.33v8.34M485.33 439.5h8.34M489.5 435.33v8.34M471.33 436.5h8.34M475.5 432.33v8.34M516.33 441.5h8.34M520.5 437.33v8.34M436.33 434.5h8.34M440.5 430.33v8.34M456.33 437.5h8.34M460.5 433.33v8.34M518.33 435.5h8.34M522.5 431.33v8.34M539.33 439.5h8.34M543.5 435.33v8.34M486.33 435.5h8.34M490.5 431.33v8.34M570.33 436.5h8.34M574.5 432.33v8.34M543.33 435.5h8.34M547.5 431.33v8.34M435.33 440.5h8.34M439.5 436.33v8.34M449.33 441.5h8.34M453.5 437.33v8.34M485.33 435.5h8.34M489.5 431.33v8.34M436.33 437.5h8.34M440.5 433.33v8.34M515.33 441.5h8.34M519.5 437.33v8.34M422.33 437.5h8.34M426.5 433.33v8.34M434.33 441.5h8.34M438.5 437.33v8.34M421.33 434.5h8.34M425.5 430.33v8.34M406.33 437.5h8.34M410.5 433.33v8.34M557.33 441.5h8.34M561.5 437.33v8.34M527.33 441.5h8.34M531.5 437.33v8.34M563.33 436.5h8.34M567.5 432.33v8.34M429.33 441.5h8.34M433.5 437.33v8.34M530.33 434.5h8.34M534.5 430.33v8.34M515.33 437.5h8.34M519.5 433.33v8.34M463.33 436.5h8.34M467.5 432.33v8.34M426.33 434.5h8.34M430.5 430.33v8.34M446.33 436.5h8.34M450.5 432.33v8.34M567.33 434.5h8.34M571.5 430.33v8.34M569.33 435.5h8.34M573.5 431.33v8.34M460.33 440.5h8.34M464.5 436.33v8.34M543.33 437.5h8.34M547.5 433.33v8.34M404.33 437.5h8.34M408.5 433.33v8.34M463.33 441.5h8.34M467.5 437.33v8.34M430.33 436.5h8.34M434.5 432.33v8.34M557.33 434.5h8.34M561.5 430.33v8.34M469.33 440.5h8.34M473.5 436.33v8.34M534.33 434.5h8.34M538.5 430.33v8.34M402.33 434.5h8.34M406.5 430.33v8.34M561.33 436.5h8.34M565.5 432.33v8.34M530.33 441.5h8.34M534.5 437.33v8.34M457.33 436.5h8.34M461.5 432.33v8.34M568.33 438.5h8.34M572.5 434.33v8.34M443.33 439.5h8.34M447.5 435.33v8.34M452.33 436.5h8.34M456.5 432.33v8.34M396.33 440.5h8.34M400.5 436.33v8.34M560.33 439.5h8.34M564.5 435.33v8.34M565.33 434.5h8.34M569.5 430.33v8.34M438.33 437.5h8.34M442.5 433.33v8.34M568.33 441.5h8.34M572.5 437.33v8.34M465.33 436.5h8.34M469.5 432.33v8.34M473.33 437.5h8.34M477.5 433.33v8.34M563.33 435.5h8.34M567.5 431.33v8.34M540.33 439.5h8.34M544.5 435.33v8.34M544.33 440.5h8.34M548.5 436.33v8.34M505.33 436.5h8.34M509.5 432.33v8.34M453.33 436.5h8.34M457.5 432.33v8.34M536.33 434.5h8.34M540.5 430.33v8.34M431.33 440.5h8.34M435.5 436.33v8.34M440.33 434.5h8.34M444.5 430.33v8.34M402.33 438.5h8.34M406.5 434.33v8.34M454.33 441.5h8.34M458.5 437.33v8.34M555.33 441.5h8.34M559.5 437.33v8.34M443.33 434.5h8.34M447.5 430.33v8.34M413.33 437.5h8.34M417.5 433.33v8.34M523.33 437.5h8.34M527.5 433.33v8.34M438.33 437.5h8.34M442.5 433.33v8.34M507.33 439.5h8.34M511.5 435.33v8.34M530.33 440.5h8.34M534.5 436.33v8.34M515.33 434.5h8.34M519.5 430.33v8.34M547.33 436.5h8.34M551.5 432.33v8.34M498.33 436.5h8.34M502.5 432.33v8.34M528.33 435.5h8.34M532.5 431.33v8.34M440.33 435.5h8.34M444.5 431.33v8.34M423.33 441.5h8.34M427.5 437.33v8.34M500.33 436.5h8.34M504.5 432.33v8.34M467.33 441.5h8.34M471.5 437.33v8.34M487.33 435.5h8.34M491.5 431.33v8.34M541.33 439.5h8.34M545.5 435.33v8.34M574.33 434.5h8.34M578.5 430.33v8.34M481.33 440.5h8.34M485.5 436.33v8.34M547.33 441.5h8.34M551.5 437.33v8.34M403.33 436.5h8.34M407.5 432.33v8.34M417.33 435.5h8.34M421.5 431.33v8.34M571.33 438.5h8.34M575.5 434.33v8.34M563.33 436.5h8.34M567.5 432.33v8.34M551.33 437.5h8.34M555.5 433.33v8.34M442.33 440.5h8.34M446.5 436.33v8.34M566.33 434.5h8.34M570.5 430.33v8.34M503.33 438.5h8.34M507.5 434.33v8.34M435.33 436.5h8.34M439.5 432.33v8.34M421.33 435.5h8.34M425.5 431.33v8.34M441.33 438.5h8.34M445.5 434.33v8.34M513.33 435.5h8.34M517.5 431.33v8.34M398.33 436.5h8.34M402.5 432.33v8.34M518.33 435.5h8.34M522.5 431.33v8.34M452.33 435.5h8.34M456.5 431.33v8.34M539.33 438.5h8.34M543.5 434.33v8.34M407.33 434.5h8.34M411.5 430.33v8.34M467.33 438.5h8.34M471.5 434.33v8.34M511.33 434.5h8.34M515.5 430.33v8.34M425.33 439.5h8.34M429.5 435.33v8.34M469.33 436.5h8.34M473.5 432.33v8.34M451.33 441.5h8.34M455.5 437.33v8.34M452.33 438.5h8.34M456.5 434.33v8.34M460.33 437.5h8.34M464.5 433.33v8.34M551.33 441.5h8.34M555.5 437.33v8.34M461.33 435.5h8.34M465.5 431.33v8.34M527.33 435.5h8.34M531.5 431.33v8.34M397.33 441.5h8.34M401.5 437.33v8.34M472.33 440.5h8.34M476.5 436.33v8.34M469.33 441.5h8.34M473.5 437.33v8.34M478.33 435.5h8.34M482.5 431.33v8.34M398.33 438.5h8.34M402.5 434.33v8.34M511.33 441.5h8.34M515.5 437.33v8.34M412.33 438.5h8.34M416.5 434.33v8.34M462.33 438.5h8.34M466.5 434.33v8.34M422.33 436.5h8.34M426.5 432.33v8.34M489.33 441.5h8.34M493.5 437.33v8.34M415.33 437.5h8.34M419.5 433.33v8.34M540.33 441.5h8.34M544.5 437.33v8.34M431.33 435.5h8.34M435.5 431.33v8.34M565.33 441.5h8.34M569.5 437.33v8.34M482.33 434.5h8.34M486.5 430.33v8.34M562.33 437.5h8.34M566.5 433.33v8.34M558.33 438.5h8.34M562.5 434.33v8.34M544.33 435.5h8.34M548.5 431.33v8.34M537.33 435.5h8.34M541.5 431.33v8.34M468.33 440.5h8.34M472.5 436.33v8.34M545.33 435.5h8.34M549.5 431.33v8.34M435.33 437.5h8.34M439.5 433.33v8.34M489.33 437.5h8.34M493.5 433.33v8.34M418.33 435.5h8.34M422.5 431.33v8.34M526.33 441.5h8.34M530.5 437.33v8.34M403.33 438.5h8.34M407.5 434.33v8.34M532.33 434.5h8.34M536.5 430.33v8.34M546.33 434.5h8.34M550.5 430.33v8.34M503.33 438.5h8.34M507.5 434.33v8.34M508.33 436.5h8.34M512.5 432.33v8.34M471.33 438.5h8.34M475.5 434.33v8.34M472.33 439.5h8.34M476.5 435.33v8.34M476.33 437.5h8.34M480.5 433.33v8.34M400.33 438.5h8.34M404.5 434.33v8.34M484.33 435.5h8.34M488.5 431.33v8.34M533.33 440.5h8.34M537.5 436.33v8.34M478.33 435.5h8.34M482.5 431.33v8.34M481.33 434.5h8.34M485.5 430.33v8.34M419.33 437.5h8.34M423.5 433.33v8.34M412.33 437.5h8.34M416.5 433.33v8.34M487.33 434.5h8.34M491.5 430.33v8.34M510.33 434.5h8.34M514.5 430.33v8.34M528.33 440.5h8.34M532.5 436.33v8.34M488.33 434.5h8.34M492.5 430.33v8.34M486.33 437.5h8.34M490.5 433.33v8.34M567.33 435.5h8.34M571.5 431.33v8.34M550.33 441.5h8.34M554.5 437.33v8.34M527.33 440.5h8.34M531.5 436.33v8.34M430.33 441.5h8.34M434.5 437.33v8.34M484.33 441.5h8.34M488.5 437.33v8.34M560.33 435.5h8.34M564.5 431.33v8.34M537.33 441.5h8.34M541.5 437.33v8.34M407.33 436.5h8.34M411.5 432.33v8.34M532.33 435.5h8.34M536.5 431.33v8.34M557.33 436.5h8.34M561.5 432.33v8.34M542.33 435.5h8.34M546.5 431.33v8.34M486.33 441.5h8.34M490.5 437.33v8.34M433.33 436.5h8.34M437.5 432.33v8.34M487.33 436.5h8.34M491.5 432.33v8.34M402.33 435.5h8.34M406.5 431.33v8.34M425.33 441.5h8.34M429.5 437.33v8.34M518.33 441.5h8.34M522.5 437.33v8.34M426.33 440.5h8.34M430.5 436.33v8.34M416.33 438.5h8.34M420.5 434.33v8.34M510.33 436.5h8.34M514.5 432.33v8.34M553.33 438.5h8.34M557.5 434.33v8.34M500.33 441.5h8.34M504.5 437.33v8.34M414.33 441.5h8.34M418.5 437.33v8.34M509.33 437.5h8.34M513.5 433.33v8.34M539.33 436.5h8.34M543.5 432.33v8.34M574.33 438.5h8.34M578.5 434.33v8.34M460.33 440.5h8.34M464.5 436.33v8.34M475.33 435.5h8.34M479.5 431.33v8.34M529.33 434.5h8.34M533.5 430.33v8.34M543.33 436.5h8.34M547.5 432.33v8.34M511.33 441.5h8.34M515.5 437.33v8.34M501.33 439.5h8.34M505.5 435.33v8.34M452.33 434.5h8.34M456.5 430.33v8.34M402.33 435.5h8.34M406.5 431.33v8.34M506.33 437.5h8.34M510.5 433.33v8.34M488.33 441.5h8.34M492.5 437.33v8.34M419.33 435.5h8.34M423.5 431.33v8.34M513.33 434.5h8.34M517.5 430.33v8.34M396.33 436.5h8.34M400.5 432.33v8.34M415.33 436.5h8.34M419.5 432.33v8.34M436.33 438.5h8.34M440.5 434.33v8.34M502.33 435.5h8.34M506.5 431.33v8.34M508.33 437.5h8.34M512.5 433.33v8.34M420.33 441.5h8.34M424.5 437.33v8.34M439.33 435.5h8.34M443.5 431.33v8.34M413.33 439.5h8.34M417.5 435.33v8.34M552.33 440.5h8.34M556.5 436.33v8.34M468.33 436.5h8.34M472.5 432.33v8.34M398.33 439.5h8.34M402.5 435.33v8.34M497.33 436.5h8.34M501.5 432.33v8.34M512.33 437.5h8.34M516.5 433.33v8.34M564.33 439.5h8.34M568.5 435.33v8.34M440.33 441.5h8.34M444.5 437.33v8.34M403.33 438.5h8.34M407.5 434.33v8.34M469.33 435.5h8.34M473.5 431.33v8.34M406.33 440.5h8.34M410.5 436.33v8.34M398.33 438.5h8.34M402.5 434.33v8.34M565.33 435.5h8.34M569.5 431.33v8.34M431.33 438.5h8.34M435.5 434.33v8.34M487.33 439.5h8.34M491.5 435.33v8.34M542.33 435.5h8.34M546.5 431.33v8.34M451.33 436.5h8.34M455.5 432.33v8.34M404.33 441.5h8.34M408.5 437.33v8.34M536.33 439.5h8.34M540.5 435.33v8.34M397.33 440.5h8.34M401.5 436.33v8.34M530.33 437.5h8.34M534.5 433.33v8.34M529.33 437.5h8.34M533.5 433.33v8.34M436.33 434.5h8.34M440.5 430.33v8.34M437.33 434.5h8.34M441.5 430.33v8.34M456.33 440.5h8.34M460.5 436.33v8.34M521.33 440.5h8.34M525.5 436.33v8.34M524.33 436.5h8.34M528.5 432.33v8.34M495.33 437.5h8.34M499.5 433.33v8.34M537.33 438.5h8.34M541.5 434.33v8.34M443.33 439.5h8.34M447.5 435.33v8.34M569.33 435.5h8.34M573.5 431.33v8.34M554.33 434.5h8.34M558.5 430.33v8.34M442.33 435.5h8.34M446.5 431.33v8.34M529.33 441.5h8.34M533.5 437.33v8.34M530.33 436.5h8.34M534.5 432.33v8.34M554.33 436.5h8.34M558.5 432.33v8.34M439.33 441.5h8.34M443.5 437.33v8.34M509.33 439.5h8.34M513.5 435.33v8.34M515.33 441.5h8.34M519.5 437.33v8.34M480.33 440.5h8.34M484.5 436.33v8.34M521.33 440.5h8.34M525.5 436.33v8.34M474.33 439.5h8.34M478.5 435.33v8.34M498.33 436.5h8.34M502.5 432.33v8.34M434.33 438.5h8.34M438.5 434.33v8.34M410.33 441.5h8.34M414.5 437.33v8.34M492.33 427.5h8.34M496.5 423.33v8.34M519.33 353.5h8.34M523.5 349.33v8.34M557.33 399.5h8.34M561.5 395.33v8.34M558.33 409.5h8.34M562.5 405.33v8.34M488.33 395.5h8.34M492.5 391.33v8.34M521.33 416.5h8.34M525.5 412.33v8.34M571.33 423.5h8.34M575.5 419.33v8.34M488.33 421.5h8.34M492.5 417.33v8.34M582.33 428.5h8.34M586.5 424.33v8.34M492.33 359.5h8.34M496.5 355.33v8.34M575.33 416.5h8.34M579.5 412.33v8.34M551.33 417.5h8.34M555.5 413.33v8.34M492.33 349.5h8.34M496.5 345.33v8.34M516.33 379.5h8.34M520.5 375.33v8.34M483.33 364.5h8.34M487.5 360.33v8.34M512.33 407.5h8.34M516.5 403.33v8.34M521.33 370.5h8.34M525.5 366.33v8.34M484.33 378.5h8.34M488.5 374.33v8.34M529.33 412.5h8.34M533.5 408.33v8.34M519.33 406.5h8.34M523.5 402.33v8.34M481.33 358.5h8.34M485.5 354.33v8.34M565.33 431.5h8.34M569.5 427.33v8.34M481.33 386.5h8.34M485.5 382.33v8.34M535.33 414.5h8.34M539.5 410.33v8.34M501.33 386.5h8.34M505.5 382.33v8.34M519.33 418.5h8.34M523.5 414.33v8.34M509.33 428.5h8.34M513.5 424.33v8.34M512.33 360.5h8.34M516.5 356.33v8.34M493.33 399.5h8.34M497.5 395.33v8.34M489.33 414.5h8.34M493.5 410.33v8.34M558.33 413.5h8.34M562.5 409.33v8.34M525.33 377.5h8.34M529.5 373.33v8.34M503.33 364.5h8.34M507.5 360.33v8.34M523.33 423.5h8.34M527.5 419.33v8.34M506.33 383.5h8.34M510.5 379.33v8.34M540.33 410.5h8.34M544.5 406.33v8.34M564.33 400.5h8.34M568.5 396.33v8.34M519.33 370.5h8.34M523.5 366.33v8.34M498.33 419.5h8.34M502.5 415.33v8.34M554.33 409.5h8.34M558.5 405.33v8.34M499.33 381.5h8.34M503.5 377.33v8.34M494.33 383.5h8.34M498.5 379.33v8.34M502.33 368.5h8.34M506.5 364.33v8.34M559.33 419.5h8.34M563.5 415.33v8.34M498.33 354.5h8.34M502.5 350.33v8.34M508.33 370.5h8.34M512.5 366.33v8.34M517.33 357.5h8.34M521.5 353.33v8.34M492.33 430.5h8.34M496.5 426.33v8.34M492.33 376.5h8.34M496.5 372.33v8.34M502.33 399.5h8.34M506.5 395.33v8.34M492.33 359.5h8.34M496.5 355.33v8.34M525.33 414.5h8.34M529.5 410.33v8.34M551.33 383.5h8.34M555.5 379.33v8.34M496.33 396.5h8.34M500.5 392.33v8.34M525.33 409.5h8.34M529.5 405.33v8.34M544.33 410.5h8.34M548.5 406.33v8.34M527.33 361.5h8.34M531.5 357.33v8.34M561.33 422.5h8.34M565.5 418.33v8.34M566.33 405.5h8.34M570.5 401.33v8.34M552.33 382.5h8.34M556.5 378.33v8.34M515.33 399.5h8.34M519.5 395.33v8.34M491.33 379.5h8.34M495.5 375.33v8.34M567.33 407.5h8.34M571.5 403.33v8.34M528.33 382.5h8.34M532.5 378.33v8.34M549.33 378.5h8.34M553.5 374.33v8.34M555.33 427.5h8.34M559.5 423.33v8.34M501.33 401.5h8.34M505.5 397.33v8.34M535.33 431.5h8.34M539.5 427.33v8.34M485.33 391.5h8.34M489.5 387.33v8.34M498.33 413.5h8.34M502.5 409.33v8.34M492.33 394.5h8.34M496.5 390.33v8.34M541.33 407.5h8.34M545.5 403.33v8.34M537.33 400.5h8.34M541.5 396.33v8.34M526.33 429.5h8.34M530.5 425.33v8.34M504.33 404.5h8.34M508.5 400.33v8.34M524.33 411.5h8.34M528.5 407.33v8.34M494.33 432.5h8.34M498.5 428.33v8.34M520.33 345.5h8.34M524.5 341.33v8.34M511.33 377.5h8.34M515.5 373.33v8.34M482.33 379.5h8.34M486.5 375.33v8.34M527.33 405.5h8.34M531.5 401.33v8.34M520.33 364.5h8.34M524.5 360.33v8.34M505.33 409.5h8.34M509.5 405.33v8.34M505.33 415.5h8.34M509.5 411.33v8.34M524.33 359.5h8.34M528.5 355.33v8.34M495.33 413.5h8.34M499.5 409.33v8.34M533.33 392.5h8.34M537.5 388.33v8.34M506.33 430.5h8.34M510.5 426.33v8.34M520.33 400.5h8.34M524.5 396.33v8.34M571.33 416.5h8.34M575.5 412.33v8.34M532.33 367.5h8.34M536.5 363.33v8.34M522.33 363.5h8.34M526.5 359.33v8.34M528.33 357.5h8.34M532.5 353.33v8.34M481.33 407.5h8.34M485.5 403.33v8.34M512.33 363.5h8.34M516.5 359.33v8.34M514.33 385.5h8.34M518.5 381.33v8.34M528.33 399.5h8.34M532.5 395.33v8.34M487.33 417.5h8.34M491.5 413.33v8.34M496.33 418.5h8.34M500.5 414.33v8.34M482.33 429.5h8.34M486.5 425.33v8.34M504.33 355.5h8.34M508.5 351.33v8.34M516.33 418.5h8.34M520.5 414.33v8.34M526.33 356.5h8.34M530.5 352.33v8.34M510.33 429.5h8.34M514.5 425.33v8.34M549.33 418.5h8.34M553.5 414.33v8.34M554.33 429.5h8.34M558.5 425.33v8.34M565.33 424.5h8.34M569.5 420.33v8.34M513.33 409.5h8.34M517.5 405.33v8.34M542.33 414.5h8.34M546.5 410.33v8.34M534.33 428.5h8.34M538.5 424.33v8.34M516.33 355.5h8.34M520.5 351.33v8.34M539.33 390.5h8.34M543.5 386.33v8.34M543.33 426.5h8.34M547.5 422.33v8.34M537.33 397.5h8.34M541.5 393.33v8.34M554.33 424.5h8.34M558.5 420.33v8.34M529.33 383.5h8.34M533.5 379.33v8.34M552.33 404.5h8.34M556.5 400.33v8.34M556.33 433.5h8.34M560.5 429.33v8.34M525.33 438.5h8.34M529.5 434.33v8.34M540.33 389.5h8.34M544.5 385.33v8.34M559.33 403.5h8.34M563.5 399.33v8.34M525.33 426.5h8.34M529.5 422.33v8.34M528.33 388.5h8.34M532.5 384.33v8.34M542.33 417.5h8.34M546.5 413.33v8.34M514.33 384.5h8.34M518.5 380.33v8.34M533.33 396.5h8.34M537.5 392.33v8.34M540.33 368.5h8.34M544.5 364.33v8.34M540.33 437.5h8.34M544.5 433.33v8.34M553.33 419.5h8.34M557.5 415.33v8.34M525.33 373.5h8.34M529.5 369.33v8.34M522.33 399.5h8.34M526.5 395.33v8.34M551.33 418.5h8.34M555.5 414.33v8.34M500.33 371.5h8.34M504.5 367.33v8.34M553.33 419.5h8.34M557.5 415.33v8.34M550.33 403.5h8.34M554.5 399.33v8.34M557.33 400.5h8.34M561.5 396.33v8.34M511.33 345.5h8.34M515.5 341.33v8.34M564.33 431.5h8.34M568.5 427.33v8.34M568.33 419.5h8.34M572.5 415.33v8.34M522.33 383.5h8.34M526.5 379.33v8.34M524.33 384.5h8.34M528.5 380.33v8.34M552.33 433.5h8.34M556.5 429.33v8.34M500.33 397.5h8.34M504.5 393.33v8.34M499.33 353.5h8.34M503.5 349.33v8.34M548.33 433.5h8.34M552.5 429.33v8.34M558.33 425.5h8.34M562.5 421.33v8.34M551.33 411.5h8.34M555.5 407.33v8.34M536.33 433.5h8.34M540.5 429.33v8.34M518.33 436.5h8.34M522.5 432.33v8.34M523.33 413.5h8.34M527.5 409.33v8.34M510.33 426.5h8.34M514.5 422.33v8.34M528.33 398.5h8.34M532.5 394.33v8.34M534.33 408.5h8.34M538.5 404.33v8.34M508.33 420.5h8.34M512.5 416.33v8.34M527.33 405.5h8.34M531.5 401.33v8.34M529.33 419.5h8.34M533.5 415.33v8.34M557.33 423.5h8.34M561.5 419.33v8.34M525.33 401.5h8.34M529.5 397.33v8.34M533.33 429.5h8.34M537.5 425.33v8.34M529.33 409.5h8.34M533.5 405.33v8.34M548.33 429.5h8.34M552.5 425.33v8.34M533.33 399.5h8.34M537.5 395.33v8.34M567.33 428.5h8.34M571.5 424.33v8.34M567.33 426.5h8.34M571.5 422.33v8.34M570.33 421.5h8.34M574.5 417.33v8.34M556.33 431.5h8.34M560.5 427.33v8.34M526.33 350.5h8.34M530.5 346.33v8.34M544.33 420.5h8.34M548.5 416.33v8.34M513.33 415.5h8.34M517.5 411.33v8.34M549.33 408.5h8.34M553.5 404.33v8.34M536.33 362.5h8.34M540.5 358.33v8.34M518.33 415.5h8.34M522.5 411.33v8.34M547.33 429.5h8.34M551.5 425.33v8.34M537.33 399.5h8.34M541.5 395.33v8.34M512.33 360.5h8.34M516.5 356.33v8.34M511.33 410.5h8.34M515.5 406.33v8.34M527.33 397.5h8.34M531.5 393.33v8.34M531.33 392.5h8.34M535.5 388.33v8.34M509.33 346.5h8.34M513.5 342.33v8.34M505.33 404.5h8.34M509.5 400.33v8.34M518.33 345.5h8.34M522.5 341.33v8.34M513.33 359.5h8.34M517.5 355.33v8.34M503.33 347.5h8.34M507.5 343.33v8.34M545.33 427.5h8.34M549.5 423.33v8.34M536.33 434.5h8.34M540.5 430.33v8.34M518.33 397.5h8.34M522.5 393.33v8.34M552.33 435.5h8.34M556.5 431.33v8.34M515.33 345.5h8.34M519.5 341.33v8.34M518.33 376.5h8.34M522.5 372.33v8.34M575.33 430.5h8.34M579.5 426.33v8.34M565.33 411.5h8.34M569.5 407.33v8.34M500.33 356.5h8.34M504.5 352.33v8.34M562.33 434.5h8.34M566.5 430.33v8.34M548.33 416.5h8.34M552.5 412.33v8.34M505.33 373.5h8.34M509.5 369.33v8.34M518.33 354.5h8.34M522.5 350.33v8.34M516.33 356.5h8.34M520.5 352.33v8.34M515.33 433.5h8.34M519.5 429.33v8.34M572.33 429.5h8.34M576.5 425.33v8.34M508.33 385.5h8.34M512.5 381.33v8.34M535.33 375.5h8.34M539.5 371.33v8.34M515.33 347.5h8.34M519.5 343.33v8.34M508.33 427.5h8.34M512.5 423.33v8.34M519.33 382.5h8.34M523.5 378.33v8.34M509.33 368.5h8.34M513.5 364.33v8.34M510.33 390.5h8.34M514.5 386.33v8.34M523.33 430.5h8.34M527.5 426.33v8.34M538.33 370.5h8.34M542.5 366.33v8.34M518.33 361.5h8.34M522.5 357.33v8.34M504.33 370.5h8.34M508.5 366.33v8.34M512.33 384.5h8.34M516.5 380.33v8.34M511.33 417.5h8.34M515.5 413.33v8.34M502.33 350.5h8.34M506.5 346.33v8.34M549.33 390.5h8.34M553.5 386.33v8.34M520.33 362.5h8.34M524.5 358.33v8.34M549.33 411.5h8.34M553.5 407.33v8.34M513.33 348.5h8.34M517.5 344.33v8.34M570.33 426.5h8.34M574.5 422.33v8.34M512.33 423.5h8.34M516.5 419.33v8.34M528.33 358.5h8.34M532.5 354.33v8.34M528.33 400.5h8.34M532.5 396.33v8.34M535.33 392.5h8.34M539.5 388.33v8.34M506.33 412.5h8.34M510.5 408.33v8.34M567.33 426.5h8.34M571.5 422.33v8.34M524.33 411.5h8.34M528.5 407.33v8.34M529.33 415.5h8.34M533.5 411.33v8.34M541.33 393.5h8.34M545.5 389.33v8.34M512.33 352.5h8.34M516.5 348.33v8.34M518.33 422.5h8.34M522.5 418.33v8.34M546.33 393.5h8.34M550.5 389.33v8.34M499.33 354.5h8.34M503.5 350.33v8.34M539.33 391.5h8.34M543.5 387.33v8.34M520.33 353.5h8.34M524.5 349.33v8.34M531.33 355.5h8.34M535.5 351.33v8.34M548.33 426.5h8.34M552.5 422.33v8.34M508.33 398.5h8.34M512.5 394.33v8.34M568.33 433.5h8.34M572.5 429.33v8.34M530.33 383.5h8.34M534.5 379.33v8.34M530.33 434.5h8.34M534.5 430.33v8.34M517.33 374.5h8.34M521.5 370.33v8.34M566.33 431.5h8.34M570.5 427.33v8.34M567.33 425.5h8.34M571.5 421.33v8.34M500.33 392.5h8.34M504.5 388.33v8.34M580.33 433.5h8.34M584.5 429.33v8.34M517.33 383.5h8.34M521.5 379.33v8.34M534.33 391.5h8.34M538.5 387.33v8.34M567.33 428.5h8.34M571.5 424.33v8.34M543.33 432.5h8.34M547.5 428.33v8.34M541.33 384.5h8.34M545.5 380.33v8.34M522.33 405.5h8.34M526.5 401.33v8.34M506.33 400.5h8.34M510.5 396.33v8.34M519.33 387.5h8.34M523.5 383.33v8.34M506.33 354.5h8.34M510.5 350.33v8.34M521.33 381.5h8.34M525.5 377.33v8.34M521.33 365.5h8.34M525.5 361.33v8.34M503.33 395.5h8.34M507.5 391.33v8.34M546.33 405.5h8.34M550.5 401.33v8.34M513.33 411.5h8.34M517.5 407.33v8.34M536.33 395.5h8.34M540.5 391.33v8.34M549.33 387.5h8.34M553.5 383.33v8.34M523.33 365.5h8.34M527.5 361.33v8.34M515.33 392.5h8.34M519.5 388.33v8.34M529.33 399.5h8.34M533.5 395.33v8.34M497.33 376.5h8.34M501.5 372.33v8.34M544.33 390.5h8.34M548.5 386.33v8.34M521.33 438.5h8.34M525.5 434.33v8.34M522.33 417.5h8.34M526.5 413.33v8.34M509.33 348.5h8.34M513.5 344.33v8.34M501.33 380.5h8.34M505.5 376.33v8.34M534.33 414.5h8.34M538.5 410.33v8.34M505.33 364.5h8.34M509.5 360.33v8.34M509.33 375.5h8.34M513.5 371.33v8.34M527.33 408.5h8.34M531.5 404.33v8.34M550.33 425.5h8.34M554.5 421.33v8.34M561.33 414.5h8.34M565.5 410.33v8.34M565.33 411.5h8.34M569.5 407.33v8.34M539.33 436.5h8.34M543.5 432.33v8.34M546.33 382.5h8.34M550.5 378.33v8.34M564.33 427.5h8.34M568.5 423.33v8.34M535.33 386.5h8.34M539.5 382.33v8.34M530.33 396.5h8.34M534.5 392.33v8.34M529.33 373.5h8.34M533.5 369.33v8.34M565.33 425.5h8.34M569.5 421.33v8.34M539.33 385.5h8.34M543.5 381.33v8.34M512.33 371.5h8.34M516.5 367.33v8.34M508.33 398.5h8.34M512.5 394.33v8.34M570.33 424.5h8.34M574.5 420.33v8.34M533.33 431.5h8.34M537.5 427.33v8.34M545.33 390.5h8.34M549.5 386.33v8.34M541.33 392.5h8.34M545.5 388.33v8.34M527.33 400.5h8.34M531.5 396.33v8.34M526.33 434.5h8.34M530.5 430.33v8.34M555.33 393.5h8.34M559.5 389.33v8.34M504.33 378.5h8.34M508.5 374.33v8.34M531.33 397.5h8.34M535.5 393.33v8.34M546.33 428.5h8.34M550.5 424.33v8.34M534.33 403.5h8.34M538.5 399.33v8.34M542.33 421.5h8.34M546.5 417.33v8.34M511.33 373.5h8.34M515.5 369.33v8.34M509.33 370.5h8.34M513.5 366.33v8.34M541.33 391.5h8.34M545.5 387.33v8.34M512.33 359.5h8.34M516.5 355.33v8.34M551.33 401.5h8.34M555.5 397.33v8.34M532.33 419.5h8.34M536.5 415.33v8.34M522.33 409.5h8.34M526.5 405.33v8.34M539.33 396.5h8.34M543.5 392.33v8.34M519.33 405.5h8.34M523.5 401.33v8.34M546.33 382.5h8.34M550.5 378.33v8.34M506.33 357.5h8.34M510.5 353.33v8.34M504.33 358.5h8.34M508.5 354.33v8.34M541.33 422.5h8.34M545.5 418.33v8.34M549.33 421.5h8.34M553.5 417.33v8.34M510.33 368.5h8.34M514.5 364.33v8.34M535.33 379.5h8.34M539.5 375.33v8.34M547.33 436.5h8.34M551.5 432.33v8.34M534.33 402.5h8.34M538.5 398.33v8.34M517.33 346.5h8.34M521.5 342.33v8.34M577.33 425.5h8.34M581.5 421.33v8.34M523.33 430.5h8.34M527.5 426.33v8.34M549.33 436.5h8.34M553.5 432.33v8.34M539.33 435.5h8.34M543.5 431.33v8.34M517.33 380.5h8.34M521.5 376.33v8.34M523.33 427.5h8.34M527.5 423.33v8.34M538.33 419.5h8.34M542.5 415.33v8.34M517.33 359.5h8.34M521.5 355.33v8.34M527.33 360.5h8.34M531.5 356.33v8.34M542.33 379.5h8.34M546.5 375.33v8.34M506.33 422.5h8.34M510.5 418.33v8.34M526.33 366.5h8.34M530.5 362.33v8.34M512.33 369.5h8.34M516.5 365.33v8.34M532.33 430.5h8.34M536.5 426.33v8.34M562.33 436.5h8.34M566.5 432.33v8.34M526.33 444.5h8.34M530.5 440.33v8.34M522.33 435.5h8.34M526.5 431.33v8.34M574.33 432.5h8.34M578.5 428.33v8.34M547.33 446.5h8.34M551.5 442.33v8.34M572.33 433.5h8.34M576.5 429.33v8.34M540.33 444.5h8.34M544.5 440.33v8.34M542.33 449.5h8.34M546.5 445.33v8.34M530.33 449.5h8.34M534.5 445.33v8.34M551.33 434.5h8.34M555.5 430.33v8.34M547.33 432.5h8.34M551.5 428.33v8.34M565.33 435.5h8.34M569.5 431.33v8.34M578.33 441.5h8.34M582.5 437.33v8.34M541.33 434.5h8.34M545.5 430.33v8.34M558.33 434.5h8.34M562.5 430.33v8.34M577.33 432.5h8.34M581.5 428.33v8.34M551.33 440.5h8.34M555.5 436.33v8.34M534.33 445.5h8.34M538.5 441.33v8.34M542.33 443.5h8.34M546.5 439.33v8.34M555.33 436.5h8.34M559.5 432.33v8.34M543.33 431.5h8.34M547.5 427.33v8.34M528.33 447.5h8.34M532.5 443.33v8.34M538.33 443.5h8.34M542.5 439.33v8.34M523.33 441.5h8.34M527.5 437.33v8.34M541.33 440.5h8.34M545.5 436.33v8.34M536.33 431.5h8.34M540.5 427.33v8.34M537.33 434.5h8.34M541.5 430.33v8.34M524.33 444.5h8.34M528.5 440.33v8.34M535.33 438.5h8.34M539.5 434.33v8.34M579.33 445.5h8.34M583.5 441.33v8.34M577.33 447.5h8.34M581.5 443.33v8.34M525.33 435.5h8.34M529.5 431.33v8.34M562.33 437.5h8.34M566.5 433.33v8.34M544.33 443.5h8.34M548.5 439.33v8.34M564.33 434.5h8.34M568.5 430.33v8.34M575.33 437.5h8.34M579.5 433.33v8.34M560.33 433.5h8.34M564.5 429.33v8.34M567.33 444.5h8.34M571.5 440.33v8.34M518.33 430.5h8.34M522.5 426.33v8.34M527.33 433.5h8.34M531.5 429.33v8.34M537.33 437.5h8.34M541.5 433.33v8.34M560.33 433.5h8.34M564.5 429.33v8.34M574.33 441.5h8.34M578.5 437.33v8.34M566.33 435.5h8.34M570.5 431.33v8.34M546.33 443.5h8.34M550.5 439.33v8.34M540.33 430.5h8.34M544.5 426.33v8.34M574.33 445.5h8.34M578.5 441.33v8.34M536.33 430.5h8.34M540.5 426.33v8.34M575.33 442.5h8.34M579.5 438.33v8.34M519.33 434.5h8.34M523.5 430.33v8.34M530.33 448.5h8.34M534.5 444.33v8.34M568.33 431.5h8.34M572.5 427.33v8.34M564.33 437.5h8.34M568.5 433.33v8.34M568.33 446.5h8.34M572.5 442.33v8.34M535.33 431.5h8.34M539.5 427.33v8.34M582.33 438.5h8.34M586.5 434.33v8.34M581.33 443.5h8.34M585.5 439.33v8.34M567.33 446.5h8.34M571.5 442.33v8.34M559.33 439.5h8.34M563.5 435.33v8.34M545.33 440.5h8.34M549.5 436.33v8.34M580.33 432.5h8.34M584.5 428.33v8.34M569.33 430.5h8.34M573.5 426.33v8.34M565.33 446.5h8.34M569.5 442.33v8.34M534.33 440.5h8.34M538.5 436.33v8.34M554.33 434.5h8.34M558.5 430.33v8.34M520.33 437.5h8.34M524.5 433.33v8.34M544.33 434.5h8.34M548.5 430.33v8.34M537.33 432.5h8.34M541.5 428.33v8.34M565.33 443.5h8.34M569.5 439.33v8.34M506.33 401.5h8.34M510.5 397.33v8.34M519.33 409.5h8.34M523.5 405.33v8.34M509.33 427.5h8.34M513.5 423.33v8.34M502.33 414.5h8.34M506.5 410.33v8.34M511.33 424.5h8.34M515.5 420.33v8.34M520.33 422.5h8.34M524.5 418.33v8.34M503.33 418.5h8.34M507.5 414.33v8.34M522.33 410.5h8.34M526.5 406.33v8.34M530.33 425.5h8.34M534.5 421.33v8.34M501.33 403.5h8.34M505.5 399.33v8.34M512.33 400.5h8.34M516.5 396.33v8.34M498.33 403.5h8.34M502.5 399.33v8.34M504.33 420.5h8.34M508.5 416.33v8.34M516.33 396.5h8.34M520.5 392.33v8.34M510.33 410.5h8.34M514.5 406.33v8.34M512.33 398.5h8.34M516.5 394.33v8.34M499.33 392.5h8.34M503.5 388.33v8.34M499.33 420.5h8.34M503.5 416.33v8.34M500.33 411.5h8.34M504.5 407.33v8.34M515.33 399.5h8.34M519.5 395.33v8.34M520.33 392.5h8.34M524.5 388.33v8.34M537.33 417.5h8.34M541.5 413.33v8.34M524.33 429.5h8.34M528.5 425.33v8.34M525.33 402.5h8.34M529.5 398.33v8.34M507.33 397.5h8.34M511.5 393.33v8.34M497.33 422.5h8.34M501.5 418.33v8.34M533.33 403.5h8.34M537.5 399.33v8.34M504.33 417.5h8.34M508.5 413.33v8.34M534.33 429.5h8.34M538.5 425.33v8.34M503.33 423.5h8.34M507.5 419.33v8.34M533.33 421.5h8.34M537.5 417.33v8.34M510.33 399.5h8.34M514.5 395.33v8.34M533.33 404.5h8.34M537.5 400.33v8.34M512.33 414.5h8.34M516.5 410.33v8.34M512.33 425.5h8.34M516.5 421.33v8.34M506.33 393.5h8.34M510.5 389.33v8.34M521.33 417.5h8.34M525.5 413.33v8.34M532.33 420.5h8.34M536.5 416.33v8.34M536.33 429.5h8.34M540.5 425.33v8.34M518.33 411.5h8.34M522.5 407.33v8.34M503.33 403.5h8.34M507.5 399.33v8.34M522.33 395.5h8.34M526.5 391.33v8.34M526.33 398.5h8.34M530.5 394.33v8.34M515.33 430.5h8.34M519.5 426.33v8.34M500.33 393.5h8.34M504.5 389.33v8.34M515.33 399.5h8.34M519.5 395.33v8.34M528.33 392.5h8.34M532.5 388.33v8.34M533.33 426.5h8.34M537.5 422.33v8.34M531.33 409.5h8.34M535.5 405.33v8.34M508.33 418.5h8.34M512.5 414.33v8.34M519.33 408.5h8.34M523.5 404.33v8.34M511.33 409.5h8.34M515.5 405.33v8.34M525.33 425.5h8.34M529.5 421.33v8.34M536.33 398.5h8.34M540.5 394.33v8.34M509.33 409.5h8.34M513.5 405.33v8.34M521.33 405.5h8.34M525.5 401.33v8.34M504.33 395.5h8.34M508.5 391.33v8.34M510.33 410.5h8.34M514.5 406.33v8.34M539.33 428.5h8.34M543.5 424.33v8.34M534.33 430.5h8.34M538.5 426.33v8.34M536.33 441.5h8.34M540.5 437.33v8.34M521.33 436.5h8.34M525.5 432.33v8.34M507.33 441.5h8.34M511.5 437.33v8.34M467.33 440.5h8.34M471.5 436.33v8.34M536.33 440.5h8.34M540.5 436.33v8.34M503.33 438.5h8.34M507.5 434.33v8.34M472.33 443.5h8.34M476.5 439.33v8.34M438.33 437.5h8.34M442.5 433.33v8.34M507.33 439.5h8.34M511.5 435.33v8.34M444.33 441.5h8.34M448.5 437.33v8.34M475.33 440.5h8.34M479.5 436.33v8.34M479.33 440.5h8.34M483.5 436.33v8.34M495.33 439.5h8.34M499.5 435.33v8.34M448.33 437.5h8.34M452.5 433.33v8.34M529.33 440.5h8.34M533.5 436.33v8.34M447.33 443.5h8.34M451.5 439.33v8.34M462.33 436.5h8.34M466.5 432.33v8.34M491.33 438.5h8.34M495.5 434.33v8.34M487.33 440.5h8.34M491.5 436.33v8.34M459.33 440.5h8.34M463.5 436.33v8.34M447.33 440.5h8.34M451.5 436.33v8.34M497.33 436.5h8.34M501.5 432.33v8.34M478.33 436.5h8.34M482.5 432.33v8.34M482.33 443.5h8.34M486.5 439.33v8.34M493.33 442.5h8.34M497.5 438.33v8.34M515.33 436.5h8.34M519.5 432.33v8.34M540.33 442.5h8.34M544.5 438.33v8.34M446.33 443.5h8.34M450.5 439.33v8.34M477.33 437.5h8.34M481.5 433.33v8.34M536.33 440.5h8.34M540.5 436.33v8.34M517.33 437.5h8.34M521.5 433.33v8.34M517.33 436.5h8.34M521.5 432.33v8.34M460.33 439.5h8.34M464.5 435.33v8.34M437.33 441.5h8.34M441.5 437.33v8.34M458.33 438.5h8.34M462.5 434.33v8.34M510.33 439.5h8.34M514.5 435.33v8.34M529.33 441.5h8.34M533.5 437.33v8.34M527.33 440.5h8.34M531.5 436.33v8.34M532.33 443.5h8.34M536.5 439.33v8.34M453.33 442.5h8.34M457.5 438.33v8.34M471.33 442.5h8.34M475.5 438.33v8.34M507.33 443.5h8.34M511.5 439.33v8.34M448.33 439.5h8.34M452.5 435.33v8.34M513.33 444.5h8.34M517.5 440.33v8.34M511.33 436.5h8.34M515.5 432.33v8.34M499.33 436.5h8.34M503.5 432.33v8.34M493.33 442.5h8.34M497.5 438.33v8.34M447.33 443.5h8.34M451.5 439.33v8.34M506.33 438.5h8.34M510.5 434.33v8.34M456.33 439.5h8.34M460.5 435.33v8.34M524.33 440.5h8.34M528.5 436.33v8.34M447.33 436.5h8.34M451.5 432.33v8.34M447.33 442.5h8.34M451.5 438.33v8.34M455.33 440.5h8.34M459.5 436.33v8.34M466.33 441.5h8.34M470.5 437.33v8.34M475.33 437.5h8.34M479.5 433.33v8.34M527.33 440.5h8.34M531.5 436.33v8.34M508.33 442.5h8.34M512.5 438.33v8.34M535.33 436.5h8.34M539.5 432.33v8.34M471.33 437.5h8.34M475.5 433.33v8.34M488.33 443.5h8.34M492.5 439.33v8.34M520.33 436.5h8.34M524.5 432.33v8.34M455.33 442.5h8.34M459.5 438.33v8.34M507.33 439.5h8.34M511.5 435.33v8.34M485.33 437.5h8.34M489.5 433.33v8.34M524.33 439.5h8.34M528.5 435.33v8.34M527.33 441.5h8.34M531.5 437.33v8.34M443.33 438.5h8.34M447.5 434.33v8.34M458.33 443.5h8.34M462.5 439.33v8.34M497.33 436.5h8.34M501.5 432.33v8.34M453.33 439.5h8.34M457.5 435.33v8.34M485.33 440.5h8.34M489.5 436.33v8.34M476.33 439.5h8.34M480.5 435.33v8.34M436.33 440.5h8.34M440.5 436.33v8.34M471.33 436.5h8.34M475.5 432.33v8.34M484.33 444.5h8.34M488.5 440.33v8.34M440.33 437.5h8.34M444.5 433.33v8.34M506.33 438.5h8.34M510.5 434.33v8.34M464.33 440.5h8.34M468.5 436.33v8.34M463.33 440.5h8.34M467.5 436.33v8.34M491.33 444.5h8.34M495.5 440.33v8.34M540.33 436.5h8.34M544.5 432.33v8.34M494.33 442.5h8.34M498.5 438.33v8.34M527.33 442.5h8.34M531.5 438.33v8.34M502.33 441.5h8.34M506.5 437.33v8.34M474.33 438.5h8.34M478.5 434.33v8.34M519.33 443.5h8.34M523.5 439.33v8.34M534.33 441.5h8.34M538.5 437.33v8.34M467.33 442.5h8.34M471.5 438.33v8.34M513.33 440.5h8.34M517.5 436.33v8.34M390.33 257.5h8.34M394.5 253.33v8.34M375.33 280.5h8.34M379.5 276.33v8.34M381.33 295.5h8.34M385.5 291.33v8.34M342.33 343.5h8.34M346.5 339.33v8.34M336.33 359.5h8.34M340.5 355.33v8.34M355.33 354.5h8.34M359.5 350.33v8.34M364.33 348.5h8.34M368.5 344.33v8.34M374.33 343.5h8.34M378.5 339.33v8.34M387.33 301.5h8.34M391.5 297.33v8.34M380.33 355.5h8.34M384.5 351.33v8.34M391.33 354.5h8.34M395.5 350.33v8.34M370.33 374.5h8.34M374.5 370.33v8.34M371.33 372.5h8.34M375.5 368.33v8.34M362.33 407.5h8.34M366.5 403.33v8.34M394.33 372.5h8.34M398.5 368.33v8.34M330.33 436.5h8.34M334.5 432.33v8.34M361.33 435.5h8.34M365.5 431.33v8.34M350.33 437.5h8.34M354.5 433.33v8.34M305.33 437.5h8.34M309.5 433.33v8.34M303.33 437.5h8.34M307.5 433.33v8.34M306.33 435.5h8.34M310.5 431.33v8.34M340.33 439.5h8.34M344.5 435.33v8.34M311.33 436.5h8.34M315.5 432.33v8.34M359.33 440.5h8.34M363.5 436.33v8.34M354.33 437.5h8.34M358.5 433.33v8.34M392.33 435.5h8.34M396.5 431.33v8.34M381.33 436.5h8.34M385.5 432.33v8.34M313.33 435.5h8.34M317.5 431.33v8.34M329.33 439.5h8.34M333.5 435.33v8.34M317.33 438.5h8.34M321.5 434.33v8.34M360.33 437.5h8.34M364.5 433.33v8.34M351.33 435.5h8.34M355.5 431.33v8.34M305.33 436.5h8.34M309.5 432.33v8.34M364.33 437.5h8.34M368.5 433.33v8.34M329.33 438.5h8.34M333.5 434.33v8.34M342.33 436.5h8.34M346.5 432.33v8.34M375.33 438.5h8.34M379.5 434.33v8.34M323.33 438.5h8.34M327.5 434.33v8.34M349.33 439.5h8.34M353.5 435.33v8.34M368.33 436.5h8.34M372.5 432.33v8.34M392.33 435.5h8.34M396.5 431.33v8.34M339.33 439.5h8.34M343.5 435.33v8.34M314.33 437.5h8.34M318.5 433.33v8.34M303.33 438.5h8.34M307.5 434.33v8.34M372.33 438.5h8.34M376.5 434.33v8.34M382.33 436.5h8.34M386.5 432.33v8.34M365.33 438.5h8.34M369.5 434.33v8.34M354.33 437.5h8.34M358.5 433.33v8.34M379.33 440.5h8.34M383.5 436.33v8.34M344.33 438.5h8.34M348.5 434.33v8.34M305.33 438.5h8.34M309.5 434.33v8.34M361.33 440.5h8.34M365.5 436.33v8.34M377.33 436.5h8.34M381.5 432.33v8.34M336.33 438.5h8.34M340.5 434.33v8.34M302.33 437.5h8.34M306.5 433.33v8.34M315.33 435.5h8.34M319.5 431.33v8.34M305.33 439.5h8.34M309.5 435.33v8.34M312.33 436.5h8.34M316.5 432.33v8.34M336.33 439.5h8.34M340.5 435.33v8.34M307.33 437.5h8.34M311.5 433.33v8.34M351.33 439.5h8.34M355.5 435.33v8.34M377.33 439.5h8.34M381.5 435.33v8.34M326.33 437.5h8.34M330.5 433.33v8.34M333.33 439.5h8.34M337.5 435.33v8.34M390.33 436.5h8.34M394.5 432.33v8.34M316.33 436.5h8.34M320.5 432.33v8.34M322.33 437.5h8.34M326.5 433.33v8.34M355.33 436.5h8.34M359.5 432.33v8.34M300.33 437.5h8.34M304.5 433.33v8.34M334.33 438.5h8.34M338.5 434.33v8.34M390.33 438.5h8.34M394.5 434.33v8.34M348.33 438.5h8.34M352.5 434.33v8.34M363.33 435.5h8.34M367.5 431.33v8.34M385.33 439.5h8.34M389.5 435.33v8.34M382.33 439.5h8.34M386.5 435.33v8.34M337.33 437.5h8.34M341.5 433.33v8.34M309.33 438.5h8.34M313.5 434.33v8.34M305.33 435.5h8.34M309.5 431.33v8.34M319.33 436.5h8.34M323.5 432.33v8.34M332.33 435.5h8.34M336.5 431.33v8.34M300.33 436.5h8.34M304.5 432.33v8.34M309.33 437.5h8.34M313.5 433.33v8.34M302.33 439.5h8.34M306.5 435.33v8.34M358.33 436.5h8.34M362.5 432.33v8.34M323.33 437.5h8.34M327.5 433.33v8.34M334.33 435.5h8.34M338.5 431.33v8.34M380.33 440.5h8.34M384.5 436.33v8.34M344.33 437.5h8.34M348.5 433.33v8.34M308.33 435.5h8.34M312.5 431.33v8.34M332.33 436.5h8.34M336.5 432.33v8.34M378.33 436.5h8.34M382.5 432.33v8.34M302.33 440.5h8.34M306.5 436.33v8.34M349.33 436.5h8.34M353.5 432.33v8.34M351.33 435.5h8.34M355.5 431.33v8.34M349.33 440.5h8.34M353.5 436.33v8.34M381.33 438.5h8.34M385.5 434.33v8.34M324.33 437.5h8.34M328.5 433.33v8.34M315.33 439.5h8.34M319.5 435.33v8.34M350.33 439.5h8.34M354.5 435.33v8.34M331.33 436.5h8.34M335.5 432.33v8.34M376.33 440.5h8.34M380.5 436.33v8.34M380.33 439.5h8.34M384.5 435.33v8.34M377.33 439.5h8.34M381.5 435.33v8.34M321.33 437.5h8.34M325.5 433.33v8.34M333.33 435.5h8.34M337.5 431.33v8.34M302.33 436.5h8.34M306.5 432.33v8.34M324.33 438.5h8.34M328.5 434.33v8.34M390.33 437.5h8.34M394.5 433.33v8.34M388.33 440.5h8.34M392.5 436.33v8.34M390.33 437.5h8.34M394.5 433.33v8.34M320.33 436.5h8.34M324.5 432.33v8.34M318.33 436.5h8.34M322.5 432.33v8.34M358.33 439.5h8.34M362.5 435.33v8.34M379.33 437.5h8.34M383.5 433.33v8.34M361.33 439.5h8.34M365.5 435.33v8.34M308.33 438.5h8.34M312.5 434.33v8.34M385.33 439.5h8.34M389.5 435.33v8.34M370.33 437.5h8.34M374.5 433.33v8.34M316.33 439.5h8.34M320.5 435.33v8.34M331.33 439.5h8.34M335.5 435.33v8.34M391.33 437.5h8.34M395.5 433.33v8.34M337.33 440.5h8.34M341.5 436.33v8.34M368.33 436.5h8.34M372.5 432.33v8.34M312.33 436.5h8.34M316.5 432.33v8.34M385.33 439.5h8.34M389.5 435.33v8.34M313.33 439.5h8.34M317.5 435.33v8.34M392.33 438.5h8.34M396.5 434.33v8.34M333.33 438.5h8.34M337.5 434.33v8.34M312.33 435.5h8.34M316.5 431.33v8.34M391.33 438.5h8.34M395.5 434.33v8.34M349.33 439.5h8.34M353.5 435.33v8.34M340.33 439.5h8.34M344.5 435.33v8.34M378.33 436.5h8.34M382.5 432.33v8.34M323.33 436.5h8.34M327.5 432.33v8.34M322.33 438.5h8.34M326.5 434.33v8.34M324.33 437.5h8.34M328.5 433.33v8.34M312.33 439.5h8.34M316.5 435.33v8.34M333.33 437.5h8.34M337.5 433.33v8.34M355.33 439.5h8.34M359.5 435.33v8.34M339.33 439.5h8.34M343.5 435.33v8.34M347.33 437.5h8.34M351.5 433.33v8.34M349.33 435.5h8.34M353.5 431.33v8.34M341.33 436.5h8.34M345.5 432.33v8.34M300.33 439.5h8.34M304.5 435.33v8.34M316.33 437.5h8.34M320.5 433.33v8.34M368.33 438.5h8.34M372.5 434.33v8.34M330.33 437.5h8.34M334.5 433.33v8.34M352.33 439.5h8.34M356.5 435.33v8.34M310.33 438.5h8.34M314.5 434.33v8.34M323.33 436.5h8.34M327.5 432.33v8.34M372.33 437.5h8.34M376.5 433.33v8.34M353.33 439.5h8.34M357.5 435.33v8.34M386.33 437.5h8.34M390.5 433.33v8.34M357.33 437.5h8.34M361.5 433.33v8.34M348.33 438.5h8.34M352.5 434.33v8.34M368.33 437.5h8.34M372.5 433.33v8.34M369.33 440.5h8.34M373.5 436.33v8.34M380.33 439.5h8.34M384.5 435.33v8.34M392.33 436.5h8.34M396.5 432.33v8.34M373.33 440.5h8.34M377.5 436.33v8.34M387.33 435.5h8.34M391.5 431.33v8.34M352.33 437.5h8.34M356.5 433.33v8.34M349.33 436.5h8.34M353.5 432.33v8.34M349.33 438.5h8.34M353.5 434.33v8.34M384.33 439.5h8.34M388.5 435.33v8.34M353.33 438.5h8.34M357.5 434.33v8.34M378.33 436.5h8.34M382.5 432.33v8.34M389.33 440.5h8.34M393.5 436.33v8.34M356.33 440.5h8.34M360.5 436.33v8.34M365.33 437.5h8.34M369.5 433.33v8.34M395.33 439.5h8.34M399.5 435.33v8.34M353.33 437.5h8.34M357.5 433.33v8.34M371.33 437.5h8.34M375.5 433.33v8.34M355.33 436.5h8.34M359.5 432.33v8.34M381.33 435.5h8.34M385.5 431.33v8.34M373.33 437.5h8.34M377.5 433.33v8.34M346.33 436.5h8.34M350.5 432.33v8.34M376.33 437.5h8.34M380.5 433.33v8.34M349.33 440.5h8.34M353.5 436.33v8.34M385.33 440.5h8.34M389.5 436.33v8.34M351.33 436.5h8.34M355.5 432.33v8.34M347.33 439.5h8.34M351.5 435.33v8.34M359.33 435.5h8.34M363.5 431.33v8.34M366.33 439.5h8.34M370.5 435.33v8.34M386.33 436.5h8.34M390.5 432.33v8.34M353.33 439.5h8.34M357.5 435.33v8.34M374.33 438.5h8.34M378.5 434.33v8.34M350.33 435.5h8.34M354.5 431.33v8.34M380.33 437.5h8.34M384.5 433.33v8.34M349.33 439.5h8.34M353.5 435.33v8.34M377.33 439.5h8.34M381.5 435.33v8.34M350.33 439.5h8.34M354.5 435.33v8.34M349.33 439.5h8.34M353.5 435.33v8.34M368.33 437.5h8.34M372.5 433.33v8.34M373.33 439.5h8.34M377.5 435.33v8.34M359.33 435.5h8.34M363.5 431.33v8.34M372.33 436.5h8.34M376.5 432.33v8.34M351.33 436.5h8.34M355.5 432.33v8.34M348.33 436.5h8.34M352.5 432.33v8.34M361.33 436.5h8.34M365.5 432.33v8.34M383.33 436.5h8.34M387.5 432.33v8.34M370.33 436.5h8.34M374.5 432.33v8.34M363.33 435.5h8.34M367.5 431.33v8.34M358.33 435.5h8.34M362.5 431.33v8.34M382.33 438.5h8.34M386.5 434.33v8.34" stroke="#00bfbf" stroke-width="0.72" fill="none"/>
<path d="M390.33 253.33l8.34 8.34M390.33 261.67l8.34 -8.34M375.33 276.33l8.34 8.34M375.33 284.67l8.34 -8.34M381.33 291.33l8.34 8.34M381.33 299.67l8.34 -8.34M342.33 339.33l8.34 8.34M342.33 347.67l8.34 -8.34M336.33 355.33l8.34 8.34M336.33 363.67l8.34 -8.34M355.33 350.33l8.34 8.34M355.33 358.67l8.34 -8.34M364.33 344.33l8.34 8.34M364.33 352.67l8.34 -8.34M374.33 339.33l8.34 8.34M374.33 347.67l8.34 -8.34M387.33 297.33l8.34 8.34M387.33 305.67l8.34 -8.34M380.33 351.33l8.34 8.34M380.33 359.67l8.34 -8.34M391.33 350.33l8.34 8.34M391.33 358.67l8.34 -8.34M370.33 370.33l8.34 8.34M370.33 378.67l8.34 -8.34M371.33 368.33l8.34 8.34M371.33 376.67l8.34 -8.34M362.33 403.33l8.34 8.34M362.33 411.67l8.34 -8.34M394.33 368.33l8.34 8.34M394.33 376.67l8.34 -8.34M330.33 432.33l8.34 8.34M330.33 440.67l8.34 -8.34M361.33 431.33l8.34 8.34M361.33 439.67l8.34 -8.34M350.33 433.33l8.34 8.34M350.33 441.67l8.34 -8.34M305.33 433.33l8.34 8.34M305.33 441.67l8.34 -8.34M303.33 433.33l8.34 8.34M303.33 441.67l8.34 -8.34M306.33 431.33l8.34 8.34M306.33 439.67l8.34 -8.34M340.33 435.33l8.34 8.34M340.33 443.67l8.34 -8.34M311.33 432.33l8.34 8.34M311.33 440.67l8.34 -8.34M359.33 436.33l8.34 8.34M359.33 444.67l8.34 -8.34M354.33 433.33l8.34 8.34M354.33 441.67l8.34 -8.34M392.33 431.33l8.34 8.34M392.33 439.67l8.34 -8.34M381.33 432.33l8.34 8.34M381.33 440.67l8.34 -8.34M313.33 431.33l8.34 8.34M313.33 439.67l8.34 -8.34M329.33 435.33l8.34 8.34M329.33 443.67l8.34 -8.34M317.33 434.33l8.34 8.34M317.33 442.67l8.34 -8.34M360.33 433.33l8.34 8.34M360.33 441.67l8.34 -8.34M351.33 431.33l8.34 8.34M351.33 439.67l8.34 -8.34M305.33 432.33l8.34 8.34M305.33 440.67l8.34 -8.34M364.33 433.33l8.34 8.34M364.33 441.67l8.34 -8.34M329.33 434.33l8.34 8.34M329.33 442.67l8.34 -8.34M342.33 432.33l8.34 8.34M342.33 440.67l8.34 -8.34M375.33 434.33l8.34 8.34M375.33 442.67l8.34 -8.34M323.33 434.33l8.34 8.34M323.33 442.67l8.34 -8.34M349.33 435.33l8.34 8.34M349.33 443.67l8.34 -8.34M368.33 432.33l8.34 8.34M368.33 440.67l8.34 -8.34M392.33 431.33l8.34 8.34M392.33 439.67l8.34 -8.34M339.33 435.33l8.34 8.34M339.33 443.67l8.34 -8.34M314.33 433.33l8.34 8.34M314.33 441.67l8.34 -8.34M303.33 434.33l8.34 8.34M303.33 442.67l8.34 -8.34M372.33 434.33l8.34 8.34M372.33 442.67l8.34 -8.34M382.33 432.33l8.34 8.34M382.33 440.67l8.34 -8.34M365.33 434.33l8.34 8.34M365.33 442.67l8.34 -8.34M354.33 433.33l8.34 8.34M354.33 441.67l8.34 -8.34M379.33 436.33l8.34 8.34M379.33 444.67l8.34 -8.34M344.33 434.33l8.34 8.34M344.33 442.67l8.34 -8.34M305.33 434.33l8.34 8.34M305.33 442.67l8.34 -8.34M361.33 436.33l8.34 8.34M361.33 444.67l8.34 -8.34M377.33 432.33l8.34 8.34M377.33 440.67l8.34 -8.34M336.33 434.33l8.34 8.34M336.33 442.67l8.34 -8.34M302.33 433.33l8.34 8.34M302.33 441.67l8.34 -8.34M315.33 431.33l8.34 8.34M315.33 439.67l8.34 -8.34M305.33 435.33l8.34 8.34M305.33 443.67l8.34 -8.34M312.33 432.33l8.34 8.34M312.33 440.67l8.34 -8.34M336.33 435.33l8.34 8.34M336.33 443.67l8.34 -8.34M307.33 433.33l8.34 8.34M307.33 441.67l8.34 -8.34M351.33 435.33l8.34 8.34M351.33 443.67l8.34 -8.34M377.33 435.33l8.34 8.34M377.33 443.67l8.34 -8.34M326.33 433.33l8.34 8.34M326.33 441.67l8.34 -8.34M333.33 435.33l8.34 8.34M333.33 443.67l8.34 -8.34M390.33 432.33l8.34 8.34M390.33 440.67l8.34 -8.34M316.33 432.33l8.34 8.34M316.33 440.67l8.34 -8.34M322.33 433.33l8.34 8.34M322.33 441.67l8.34 -8.34M355.33 432.33l8.34 8.34M355.33 440.67l8.34 -8.34M300.33 433.33l8.34 8.34M300.33 441.67l8.34 -8.34M334.33 434.33l8.34 8.34M334.33 442.67l8.34 -8.34M390.33 434.33l8.34 8.34M390.33 442.67l8.34 -8.34M348.33 434.33l8.34 8.34M348.33 442.67l8.34 -8.34M363.33 431.33l8.34 8.34M363.33 439.67l8.34 -8.34M385.33 435.33l8.34 8.34M385.33 443.67l8.34 -8.34M382.33 435.33l8.34 8.34M382.33 443.67l8.34 -8.34M337.33 433.33l8.34 8.34M337.33 441.67l8.34 -8.34M309.33 434.33l8.34 8.34M309.33 442.67l8.34 -8.34M305.33 431.33l8.34 8.34M305.33 439.67l8.34 -8.34M319.33 432.33l8.34 8.34M319.33 440.67l8.34 -8.34M332.33 431.33l8.34 8.34M332.33 439.67l8.34 -8.34M300.33 432.33l8.34 8.34M300.33 440.67l8.34 -8.34M309.33 433.33l8.34 8.34M309.33 441.67l8.34 -8.34M302.33 435.33l8.34 8.34M302.33 443.67l8.34 -8.34M358.33 432.33l8.34 8.34M358.33 440.67l8.34 -8.34M323.33 433.33l8.34 8.34M323.33 441.67l8.34 -8.34M334.33 431.33l8.34 8.34M334.33 439.67l8.34 -8.34M380.33 436.33l8.34 8.34M380.33 444.67l8.34 -8.34M344.33 433.33l8.34 8.34M344.33 441.67l8.34 -8.34M308.33 431.33l8.34 8.34M308.33 439.67l8.34 -8.34M332.33 432.33l8.34 8.34M332.33 440.67l8.34 -8.34M378.33 432.33l8.34 8.34M378.33 440.67l8.34 -8.34M302.33 436.33l8.34 8.34M302.33 444.67l8.34 -8.34M349.33 432.33l8.34 8.34M349.33 440.67l8.34 -8.34M351.33 431.33l8.34 8.34M351.33 439.67l8.34 -8.34M349.33 436.33l8.34 8.34M349.33 444.67l8.34 -8.34M381.33 434.33l8.34 8.34M381.33 442.67l8.34 -8.34M324.33 433.33l8.34 8.34M324.33 441.67l8.34 -8.34M315.33 435.33l8.34 8.34M315.33 443.67l8.34 -8.34M350.33 435.33l8.34 8.34M350.33 443.67l8.34 -8.34M331.33 432.33l8.34 8.34M331.33 440.67l8.34 -8.34M376.33 436.33l8.34 8.34M376.33 444.67l8.34 -8.34M380.33 435.33l8.34 8.34M380.33 443.67l8.34 -8.34M377.33 435.33l8.34 8.34M377.33 443.67l8.34 -8.34M321.33 433.33l8.34 8.34M321.33 441.67l8.34 -8.34M333.33 431.33l8.34 8.34M333.33 439.67l8.34 -8.34M302.33 432.33l8.34 8.34M302.33 440.67l8.34 -8.34M324.33 434.33l8.34 8.34M324.33 442.67l8.34 -8.34M390.33 433.33l8.34 8.34M390.33 441.67l8.34 -8.34M388.33 436.33l8.34 8.34M388.33 444.67l8.34 -8.34M390.33 433.33l8.34 8.34M390.33 441.67l8.34 -8.34M320.33 432.33l8.34 8.34M320.33 440.67l8.34 -8.34M318.33 432.33l8.34 8.34M318.33 440.67l8.34 -8.34M358.33 435.33l8.34 8.34M358.33 443.67l8.34 -8.34M379.33 433.33l8.34 8.34M379.33 441.67l8.34 -8.34M361.33 435.33l8.34 8.34M361.33 443.67l8.34 -8.34M308.33 434.33l8.34 8.34M308.33 442.67l8.34 -8.34M385.33 435.33l8.34 8.34M385.33 443.67l8.34 -8.34M370.33 433.33l8.34 8.34M370.33 441.67l8.34 -8.34M316.33 435.33l8.34 8.34M316.33 443.67l8.34 -8.34M331.33 435.33l8.34 8.34M331.33 443.67l8.34 -8.34M391.33 433.33l8.34 8.34M391.33 441.67l8.34 -8.34M337.33 436.33l8.34 8.34M337.33 444.67l8.34 -8.34M368.33 432.33l8.34 8.34M368.33 440.67l8.34 -8.34M312.33 432.33l8.34 8.34M312.33 440.67l8.34 -8.34M385.33 435.33l8.34 8.34M385.33 443.67l8.34 -8.34M313.33 435.33l8.34 8.34M313.33 443.67l8.34 -8.34M392.33 434.33l8.34 8.34M392.33 442.67l8.34 -8.34M333.33 434.33l8.34 8.34M333.33 442.67l8.34 -8.34M312.33 431.33l8.34 8.34M312.33 439.67l8.34 -8.34M391.33 434.33l8.34 8.34M391.33 442.67l8.34 -8.34M349.33 435.33l8.34 8.34M349.33 443.67l8.34 -8.34M340.33 435.33l8.34 8.34M340.33 443.67l8.34 -8.34M378.33 432.33l8.34 8.34M378.33 440.67l8.34 -8.34M323.33 432.33l8.34 8.34M323.33 440.67l8.34 -8.34M322.33 434.33l8.34 8.34M322.33 442.67l8.34 -8.34M324.33 433.33l8.34 8.34M324.33 441.67l8.34 -8.34M312.33 435.33l8.34 8.34M312.33 443.67l8.34 -8.34M333.33 433.33l8.34 8.34M333.33 441.67l8.34 -8.34M355.33 435.33l8.34 8.34M355.33 443.67l8.34 -8.34M339.33 435.33l8.34 8.34M339.33 443.67l8.34 -8.34M347.33 433.33l8.34 8.34M347.33 441.67l8.34 -8.34M349.33 431.33l8.34 8.34M349.33 439.67l8.34 -8.34M341.33 432.33l8.34 8.34M341.33 440.67l8.34 -8.34M300.33 435.33l8.34 8.34M300.33 443.67l8.34 -8.34M316.33 433.33l8.34 8.34M316.33 441.67l8.34 -8.34M368.33 434.33l8.34 8.34M368.33 442.67l8.34 -8.34M330.33 433.33l8.34 8.34M330.33 441.67l8.34 -8.34M352.33 435.33l8.34 8.34M352.33 443.67l8.34 -8.34M310.33 434.33l8.34 8.34M310.33 442.67l8.34 -8.34M323.33 432.33l8.34 8.34M323.33 440.67l8.34 -8.34M372.33 433.33l8.34 8.34M372.33 441.67l8.34 -8.34M353.33 435.33l8.34 8.34M353.33 443.67l8.34 -8.34M386.33 433.33l8.34 8.34M386.33 441.67l8.34 -8.34M357.33 433.33l8.34 8.34M357.33 441.67l8.34 -8.34M348.33 434.33l8.34 8.34M348.33 442.67l8.34 -8.34M368.33 433.33l8.34 8.34M368.33 441.67l8.34 -8.34M369.33 436.33l8.34 8.34M369.33 444.67l8.34 -8.34M380.33 435.33l8.34 8.34M380.33 443.67l8.34 -8.34M392.33 432.33l8.34 8.34M392.33 440.67l8.34 -8.34M373.33 436.33l8.34 8.34M373.33 444.67l8.34 -8.34M387.33 431.33l8.34 8.34M387.33 439.67l8.34 -8.34M352.33 433.33l8.34 8.34M352.33 441.67l8.34 -8.34M349.33 432.33l8.34 8.34M349.33 440.67l8.34 -8.34M349.33 434.33l8.34 8.34M349.33 442.67l8.34 -8.34M384.33 435.33l8.34 8.34M384.33 443.67l8.34 -8.34M353.33 434.33l8.34 8.34M353.33 442.67l8.34 -8.34M378.33 432.33l8.34 8.34M378.33 440.67l8.34 -8.34M389.33 436.33l8.34 8.34M389.33 444.67l8.34 -8.34M356.33 436.33l8.34 8.34M356.33 444.67l8.34 -8.34M365.33 433.33l8.34 8.34M365.33 441.67l8.34 -8.34M395.33 435.33l8.34 8.34M395.33 443.67l8.34 -8.34M353.33 433.33l8.34 8.34M353.33 441.67l8.34 -8.34M371.33 433.33l8.34 8.34M371.33 441.67l8.34 -8.34M355.33 432.33l8.34 8.34M355.33 440.67l8.34 -8.34M381.33 431.33l8.34 8.34M381.33 439.67l8.34 -8.34M373.33 433.33l8.34 8.34M373.33 441.67l8.34 -8.34M346.33 432.33l8.34 8.34M346.33 440.67l8.34 -8.34M376.33 433.33l8.34 8.34M376.33 441.67l8.34 -8.34M349.33 436.33l8.34 8.34M349.33 444.67l8.34 -8.34M385.33 436.33l8.34 8.34M385.33 444.67l8.34 -8.34M351.33 432.33l8.34 8.34M351.33 440.67l8.34 -8.34M347.33 435.33l8.34 8.34M347.33 443.67l8.34 -8.34M359.33 431.33l8.34 8.34M359.33 439.67l8.34 -8.34M366.33 435.33l8.34 8.34M366.33 443.67l8.34 -8.34M386.33 432.33l8.34 8.34M386.33 440.67l8.34 -8.34M353.33 435.33l8.34 8.34M353.33 443.67l8.34 -8.34M374.33 434.33l8.34 8.34M374.33 442.67l8.34 -8.34M350.33 431.33l8.34 8.34M350.33 439.67l8.34 -8.34M380.33 433.33l8.34 8.34M380.33 441.67l8.34 -8.34M349.33 435.33l8.34 8.34M349.33 443.67l8.34 -8.34M377.33 435.33l8.34 8.34M377.33 443.67l8.34 -8.34M350.33 435.33l8.34 8.34M350.33 443.67l8.34 -8.34M349.33 435.33l8.34 8.34M349.33 443.67l8.34 -8.34M368.33 433.33l8.34 8.34M368.33 441.67l8.34 -8.34M373.33 435.33l8.34 8.34M373.33 443.67l8.34 -8.34M359.33 431.33l8.34 8.34M359.33 439.67l8.34 -8.34M372.33 432.33l8.34 8.34M372.33 440.67l8.34 -8.34M351.33 432.33l8.34 8.34M351.33 440.67l8.34 -8.34M348.33 432.33l8.34 8.34M348.33 440.67l8.34 -8.34M361.33 432.33l8.34 8.34M361.33 440.67l8.34 -8.34M383.33 432.33l8.34 8.34M383.33 440.67l8.34 -8.34M370.33 432.33l8.34 8.34M370.33 440.67l8.34 -8.34M363.33 431.33l8.34 8.34M363.33 439.67l8.34 -8.34M358.33 431.33l8.34 8.34M358.33 439.67l8.34 -8.34M382.33 434.33l8.34 8.34M382.33 442.67l8.34 -8.34" stroke="#0000ff" stroke-width="1.0" fill="none"/>
<circle cx="307.5" cy="439.5" r="4.5" fill="#000"/>
<circle cx="310.5" cy="440.5" r="4.5" fill="#000"/>
<circle cx="314.5" cy="440.5" r="4.5" fill="#000"/>
<circle cx="316.5" cy="439.5" r="4.5" fill="#000"/>
<circle cx="319.5" cy="439.5" r="4.5" fill="#000"/>
<circle cx="327.5" cy="439.5" r="4.5" fill="#000"/>
<circle cx="331.5" cy="439.5" r="4.5" fill="#000"/>
<circle cx="346.5" cy="439.5" r="4.5" fill="#000"/>
<circle cx="350.5" cy="439.5" r="4.5" fill="#000"/>
<circle cx="353.5" cy="439.5" r="4.5" fill="#000"/>
</g></svg>
<path d="M183.5 540V534.4M265.5 540V534.4M348.5 540V534.4M431.5 540V534.4M513.5 540V534.4M596.5 540V534.4M679.5 540V534.4M135.5 61V66.2M218.5 61V66.2M301.5 61V66.2M383.5 61V66.2M466.5 61V66.2M549.5 61V66.2M631.5 61V66.2M714.5 61V66.2M101 420.5H106.1M720 420.5H714.9M101 300.5H106.1M720 300.5H714.9M101 180.5H106.1M720 180.5H714.9" stroke="#000" stroke-width="0.8" fill="none"/>
<path d="M100 439.5H720" stroke="#0000ff" stroke-width="1.4" stroke-dasharray="8.33 8.33" fill="none"/>
<rect x="100.5" y="60.5" width="620" height="480" fill="none" stroke="#000" stroke-width="1.3"/>
<rect x="398.5" y="70.5" width="312" height="122" fill="#fff" stroke="#000" stroke-width="1"/>
<path d="M408.33 86.5h8.34M412.5 82.33v8.34" stroke="#00bfbf" stroke-width="0.9" fill="none"/>
<path d="M408.33 111.33l8.34 8.34M408.33 119.67l8.34 -8.34" stroke="#0000ff" stroke-width="0.9" fill="none"/>
<circle cx="412.5" cy="144.5" r="4.5" fill="#000"/>
<path d="M436.33 86.5h8.34M440.5 82.33v8.34" stroke="#00bfbf" stroke-width="0.9" fill="none"/>
<path d="M436.33 111.33l8.34 8.34M436.33 119.67l8.34 -8.34" stroke="#0000ff" stroke-width="0.9" fill="none"/>
<circle cx="440.5" cy="144.5" r="4.5" fill="#000"/>
<path d="M412.5 173.5H440.5" stroke="#0000ff" stroke-width="1.4" stroke-dasharray="8.33 8.33" fill="none"/>
<g font-size="16.67">

</g>
<g style="opacity:0.999"><text x="125.40" y="49.9" font-size="17.6" textLength="17.82" lengthAdjust="spacingAndGlyphs">14</text>
<text x="209.00" y="49.9" font-size="17.6" textLength="18.87" lengthAdjust="spacingAndGlyphs">16</text>
<text x="291.00" y="49.9" font-size="17.6" textLength="18.06" lengthAdjust="spacingAndGlyphs">18</text>
<text x="373.00" y="49.9" font-size="17.6" textLength="18.02" lengthAdjust="spacingAndGlyphs">20</text>
<text x="457.00" y="49.9" font-size="17.6" textLength="18.00" lengthAdjust="spacingAndGlyphs">22</text>
<text x="538.00" y="49.9" font-size="17.6" textLength="18.00" lengthAdjust="spacingAndGlyphs">24</text>
<text x="621.00" y="49.9" font-size="17.6" textLength="19.08" lengthAdjust="spacingAndGlyphs">26</text>
<text x="703.00" y="49.9" font-size="17.6" textLength="19.08" lengthAdjust="spacingAndGlyphs">28</text>
<text x="84.20" y="559.8" font-size="17.6" textLength="32.42" lengthAdjust="spacingAndGlyphs">−20</text>
<text x="167.00" y="559.8" font-size="17.6" textLength="33.04" lengthAdjust="spacingAndGlyphs">−18</text>
<text x="249.00" y="559.8" font-size="17.6" textLength="33.03" lengthAdjust="spacingAndGlyphs">−16</text>
<text x="332.00" y="559.8" font-size="17.6" textLength="32.05" lengthAdjust="spacingAndGlyphs">−14</text>
<text x="415.00" y="559.8" font-size="17.6" textLength="33.08" lengthAdjust="spacingAndGlyphs">−12</text>
<text x="497.00" y="559.8" font-size="17.6" textLength="32.84" lengthAdjust="spacingAndGlyphs">−10</text>
<text x="585.00" y="559.8" font-size="17.6" textLength="22.05" lengthAdjust="spacingAndGlyphs">−8</text>
<text x="668.00" y="559.8" font-size="17.6" textLength="21.07" lengthAdjust="spacingAndGlyphs">−6</text>
<text x="86.20" y="545.0" font-size="17.6" textLength="8.47" lengthAdjust="spacingAndGlyphs">0</text>
<text x="87.20" y="425.0" font-size="17.6" textLength="8.62" lengthAdjust="spacingAndGlyphs">5</text>
<text x="76.60" y="305.0" font-size="17.6" textLength="17.81" lengthAdjust="spacingAndGlyphs">10</text>
<text x="76.60" y="185.0" font-size="17.6" textLength="17.81" lengthAdjust="spacingAndGlyphs">15</text>
<text x="75.00" y="65.0" font-size="17.6" textLength="18.42" lengthAdjust="spacingAndGlyphs">20</text>
<text x="303.40" y="28.9" font-size="19.6" textLength="61.83" lengthAdjust="spacingAndGlyphs">FWHM</text>
<text x="373.20" y="28.9" font-size="19.6" textLength="20.02" lengthAdjust="spacingAndGlyphs">vs</text>
<text x="402.20" y="28.9" font-size="19.6" textLength="117.61" lengthAdjust="spacingAndGlyphs">magnitudes</text>
<text x="266.00" y="583.8" font-size="17.6" textLength="87.40" lengthAdjust="spacingAndGlyphs">magnitude</text>
<text x="360.00" y="583.8" font-size="17.6" textLength="100.00" lengthAdjust="spacingAndGlyphs">(bottom:isnt</text>
<text x="469.20" y="583.8" font-size="17.6" textLength="5.65" lengthAdjust="spacingAndGlyphs">/</text>
<text x="479.20" y="583.8" font-size="17.6" textLength="76.41" lengthAdjust="spacingAndGlyphs">top:calib)</text>
<text x="462.20" y="93.0" font-size="21" textLength="21.81" lengthAdjust="spacingAndGlyphs">all</text>
<text x="492.20" y="93.0" font-size="21" textLength="72.01" lengthAdjust="spacingAndGlyphs">sample</text>
<text x="461.80" y="121.75" font-size="21" textLength="72.02" lengthAdjust="spacingAndGlyphs">sample</text>
<text x="542.20" y="121.75" font-size="21" textLength="26.44" lengthAdjust="spacingAndGlyphs">for</text>
<text x="576.20" y="121.75" font-size="21" textLength="56.84" lengthAdjust="spacingAndGlyphs">rough</text>
<text x="641.00" y="121.75" font-size="21" textLength="61.43" lengthAdjust="spacingAndGlyphs">FWHM</text>
<text x="462.40" y="150.25" font-size="21" textLength="65.21" lengthAdjust="spacingAndGlyphs">coarse</text>
<text x="536.20" y="150.25" font-size="21" textLength="76.61" lengthAdjust="spacingAndGlyphs">PSF-like</text>
<text x="619.00" y="150.25" font-size="21" textLength="72.61" lengthAdjust="spacingAndGlyphs">sample</text>
<text x="463.20" y="179.2" font-size="21" textLength="89.20" lengthAdjust="spacingAndGlyphs">tentative</text>
<text x="559.60" y="179.2" font-size="21" textLength="63.05" lengthAdjust="spacingAndGlyphs">FWHM</text>
<text transform="translate(64.2 446.0) rotate(-90)" x="100.00" y="0" font-size="17.6" textLength="49.21" lengthAdjust="spacingAndGlyphs">FWHM</text>
<text transform="translate(64.2 446.0) rotate(-90)" x="157.60" y="0" font-size="17.6" textLength="36.27" lengthAdjust="spacingAndGlyphs">(pix)</text></g>
</svg>
</body></html>
